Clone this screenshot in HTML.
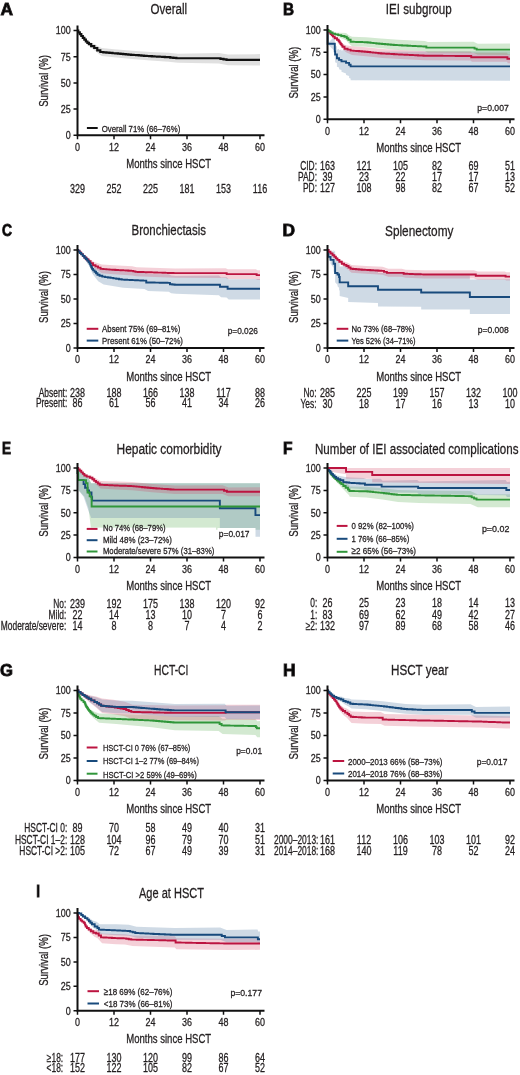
<!DOCTYPE html>
<html><head><meta charset="utf-8"><style>
html,body{margin:0;padding:0;background:#fff;}
svg{display:block;will-change:transform;}
text{font-family:"Liberation Sans",sans-serif;stroke:#231f20;stroke-width:0.3px;}
</style></head><body>
<svg width="520" height="1075" viewBox="0 0 520 1075">
<rect width="520" height="1075" fill="#fff"/>
<text transform="translate(0.50,15.00) scale(1.021,1)" font-size="17" font-weight="bold" style="stroke-width:0.9px" fill="#000">A</text>
<text transform="translate(150.50,13.70) scale(0.757,1)" font-size="15.3" fill="#231f20">Overall</text>
<path d="M77.50,30.50 L80.54,33.47 L83.58,36.44 L86.62,39.41 L89.67,41.65 L92.71,43.37 L95.75,44.77 L98.79,46.81 L101.83,48.00 L114.00,49.18 L132.25,50.64 L150.50,51.89 L168.75,52.82 L177.88,53.73 L218.94,53.12 L228.06,54.56 L260.00,54.08 L260.00,65.61 L228.06,65.13 L218.94,63.42 L177.88,62.81 L168.75,61.63 L150.50,60.46 L132.25,58.99 L114.00,57.30 L101.83,55.97 L98.79,54.02 L95.75,51.23 L92.71,49.07 L89.67,46.60 L86.62,43.60 L83.58,39.23 L80.54,34.87 L77.50,30.50 Z" fill="#b4b4b4" fill-opacity="0.42" stroke="none"/>
<path d="M77.50,30.50 L78.26,30.50 L78.26,32.33 L79.78,32.33 L79.78,34.17 L80.54,34.17 L81.30,34.17 L81.30,36.00 L82.82,36.00 L82.82,37.84 L83.58,37.84 L84.34,37.84 L84.34,39.67 L85.86,39.67 L85.86,41.50 L86.62,41.50 L87.39,41.50 L87.39,42.81 L88.91,42.81 L88.91,44.12 L89.67,44.12 L91.19,44.12 L91.19,46.22 L92.71,46.22 L94.23,46.22 L94.23,48.00 L95.75,48.00 L97.27,48.00 L97.27,50.41 L98.79,50.41 L100.31,50.41 L100.31,51.98 L101.83,51.98 L103.35,51.98 L103.35,52.30 L106.40,52.30 L106.40,52.61 L109.44,52.61 L109.44,52.93 L112.48,52.93 L112.48,53.24 L114.00,53.24 L115.30,53.24 L115.30,53.47 L117.91,53.47 L117.91,53.69 L120.52,53.69 L120.52,53.92 L123.12,53.92 L123.12,54.14 L125.73,54.14 L125.73,54.36 L128.34,54.36 L128.34,54.59 L130.95,54.59 L130.95,54.81 L132.25,54.81 L133.55,54.81 L133.55,55.01 L136.16,55.01 L136.16,55.20 L138.77,55.20 L138.77,55.40 L141.38,55.40 L141.38,55.59 L143.98,55.59 L143.98,55.79 L146.59,55.79 L146.59,55.98 L149.20,55.98 L149.20,56.18 L150.50,56.18 L151.80,56.18 L151.80,56.33 L154.41,56.33 L154.41,56.48 L157.02,56.48 L157.02,56.63 L159.62,56.63 L159.62,56.77 L162.23,56.77 L162.23,56.92 L164.84,56.92 L164.84,57.07 L167.45,57.07 L167.45,57.22 L168.75,57.22 L170.27,57.22 L170.27,57.57 L173.31,57.57 L173.31,57.92 L176.35,57.92 L176.35,58.27 L177.88,58.27 L218.94,58.27 L220.46,58.27 L220.46,58.80 L223.50,58.80 L223.50,59.32 L226.54,59.32 L226.54,59.84 L228.06,59.84 L260.00,59.84" fill="none" stroke="#111" stroke-width="2.2" stroke-linejoin="miter"/>
<path d="M77.5,25.50 V135.3 H264.5" fill="none" stroke="#111" stroke-width="2"/>
<text transform="translate(65.72,139.10) scale(0.780,1)" font-size="11.5" fill="#231f20">0</text>
<text transform="translate(60.74,112.90) scale(0.780,1)" font-size="11.5" fill="#231f20">25</text>
<text transform="translate(60.74,86.70) scale(0.780,1)" font-size="11.5" fill="#231f20">50</text>
<text transform="translate(60.74,60.50) scale(0.780,1)" font-size="11.5" fill="#231f20">75</text>
<text transform="translate(55.72,34.30) scale(0.780,1)" font-size="11.5" fill="#231f20">100</text>
<text transform="translate(75.01,150.70) scale(0.780,1)" font-size="11.5" fill="#231f20">0</text>
<text transform="translate(109.02,150.70) scale(0.780,1)" font-size="11.5" fill="#231f20">12</text>
<text transform="translate(145.52,150.70) scale(0.780,1)" font-size="11.5" fill="#231f20">24</text>
<text transform="translate(182.02,150.70) scale(0.780,1)" font-size="11.5" fill="#231f20">36</text>
<text transform="translate(218.52,150.70) scale(0.780,1)" font-size="11.5" fill="#231f20">48</text>
<text transform="translate(255.02,150.70) scale(0.780,1)" font-size="11.5" fill="#231f20">60</text>
<path d="M73.5,135.30 H77.5 M73.5,109.10 H77.5 M73.5,82.90 H77.5 M73.5,56.70 H77.5 M73.5,30.50 H77.5 M77.50,135.3 V139.3 M114.00,135.3 V139.3 M150.50,135.3 V139.3 M187.00,135.3 V139.3 M223.50,135.3 V139.3 M260.00,135.3 V139.3" stroke="#111" stroke-width="1.5" fill="none"/>
<text transform="translate(126.28,167.80) scale(0.735,1)" font-size="13" fill="#231f20">Months since HSCT</text>
<text transform="translate(48.20,80.90) rotate(-90) translate(-25.94,0) scale(0.77,1)" font-size="12.5" fill="#231f20">Survival (%)</text>
<line x1="86.9" y1="128" x2="97.7" y2="128" stroke="#111" stroke-width="2"/>
<text transform="translate(101.70,131.90) scale(0.790,1)" font-size="9.9" fill="#231f20">Overall 71% (66–76%)</text>
<text transform="translate(70.01,193.10) scale(0.735,1)" font-size="12.2" fill="#231f20">329</text>
<text transform="translate(106.51,193.10) scale(0.735,1)" font-size="12.2" fill="#231f20">252</text>
<text transform="translate(143.01,193.10) scale(0.735,1)" font-size="12.2" fill="#231f20">225</text>
<text transform="translate(179.51,193.10) scale(0.735,1)" font-size="12.2" fill="#231f20">181</text>
<text transform="translate(216.01,193.10) scale(0.735,1)" font-size="12.2" fill="#231f20">153</text>
<text transform="translate(252.85,193.10) scale(0.735,1)" font-size="12.2" fill="#231f20">116</text>
<text transform="translate(283.00,15.00) scale(0.899,1)" font-size="17" font-weight="bold" style="stroke-width:0.9px" fill="#000">B</text>
<text transform="translate(385.80,13.50) scale(0.760,1)" font-size="15.3" fill="#231f20">IEI subgroup</text>
<path d="M327.50,30.00 L327.65,30.00 L327.65,43.56 L334.80,36.07 L334.80,43.74 L335.10,43.60 L335.10,46.73 L336.93,45.92 L336.93,49.67 L339.06,48.73 L339.06,50.34 L341.49,49.27 L341.49,50.78 L346.05,48.78 L346.05,50.29 L349.10,48.95 L349.10,50.83 L350.62,50.16 L350.62,51.76 L510.00,51.23 L510.00,51.23 L510.00,80.67 L510.00,80.67 L350.62,80.19 L350.62,78.58 L349.10,77.99 L349.10,76.12 L346.05,74.93 L346.05,73.41 L341.49,71.63 L341.49,70.11 L339.06,69.16 L339.06,67.55 L336.93,66.72 L336.93,62.97 L335.10,62.26 L335.10,59.14 L334.80,59.02 L334.80,51.35 L327.65,43.92 L327.65,30.18 L327.50,30.00 Z" fill="#5f86aa" fill-opacity="0.3" stroke="none"/>
<path d="M327.50,30.00 L333.58,35.49 L338.15,37.86 L343.01,43.93 L346.05,45.33 L352.14,46.15 L366.13,47.30 L382.55,49.00 L400.50,50.07 L424.83,51.23 L470.46,51.59 L471.98,52.84 L506.96,52.84 L507.87,54.26 L510.00,54.26 L510.00,63.18 L507.87,63.18 L506.96,61.76 L471.98,61.76 L470.46,60.51 L424.83,60.15 L400.50,58.99 L382.55,57.92 L366.13,56.22 L352.14,55.07 L346.05,52.13 L343.01,49.61 L338.15,41.76 L333.58,37.72 L327.50,30.00 Z" fill="#d23a5e" fill-opacity="0.24" stroke="none"/>
<path d="M327.50,30.00 L333.58,32.43 L339.67,32.72 L346.05,33.04 L349.10,35.46 L352.14,36.87 L366.13,37.19 L380.73,38.59 L398.07,39.87 L424.83,40.98 L427.88,42.11 L473.50,41.73 L477.76,43.65 L510.00,43.38 L510.00,54.98 L477.76,54.79 L473.50,52.81 L427.88,52.55 L424.83,51.37 L398.07,49.88 L380.73,48.36 L366.13,46.76 L352.14,46.24 L349.10,43.77 L346.05,40.18 L339.67,37.40 L333.58,34.77 L327.50,30.00 Z" fill="#5cae54" fill-opacity="0.27" stroke="none"/>
<path d="M327.50,30.00 L327.65,30.00 L327.65,43.74 L334.80,43.74 L334.80,51.41 L335.10,51.41 L335.10,54.53 L336.93,54.53 L336.93,58.28 L339.06,58.28 L339.06,59.88 L341.49,59.88 L341.49,61.40 L346.05,61.40 L346.05,62.91 L349.10,62.91 L349.10,64.79 L350.62,64.79 L350.62,66.39 L510.00,66.39 L510.00,66.39" fill="none" stroke="#184a7c" stroke-width="1.9" stroke-linejoin="miter"/>
<path d="M327.50,30.00 L328.11,30.00 L328.11,31.32 L329.32,31.32 L329.32,32.64 L330.54,32.64 L330.54,33.96 L331.76,33.96 L331.76,35.28 L332.98,35.28 L332.98,36.60 L333.58,36.60 L334.72,36.60 L334.72,38.21 L337.01,38.21 L337.01,39.81 L338.15,39.81 L338.63,39.81 L338.63,41.20 L339.61,41.20 L339.61,42.60 L340.58,42.60 L340.58,43.99 L341.55,43.99 L341.55,45.38 L342.53,45.38 L342.53,46.77 L343.01,46.77 L344.53,46.77 L344.53,48.73 L346.05,48.73 L347.57,48.73 L347.57,49.67 L350.62,49.67 L350.62,50.61 L352.14,50.61 L353.54,50.61 L353.54,50.84 L356.33,50.84 L356.33,51.07 L359.13,51.07 L359.13,51.30 L361.93,51.30 L361.93,51.53 L364.73,51.53 L364.73,51.76 L366.13,51.76 L367.50,51.76 L367.50,52.05 L370.24,52.05 L370.24,52.33 L372.97,52.33 L372.97,52.61 L375.71,52.61 L375.71,52.89 L378.45,52.89 L378.45,53.18 L381.19,53.18 L381.19,53.46 L382.55,53.46 L383.84,53.46 L383.84,53.61 L386.40,53.61 L386.40,53.77 L388.96,53.77 L388.96,53.92 L391.53,53.92 L391.53,54.07 L394.09,54.07 L394.09,54.22 L396.65,54.22 L396.65,54.38 L399.22,54.38 L399.22,54.53 L400.50,54.53 L401.85,54.53 L401.85,54.66 L404.56,54.66 L404.56,54.79 L407.26,54.79 L407.26,54.92 L409.96,54.92 L409.96,55.05 L412.67,55.05 L412.67,55.17 L415.37,55.17 L415.37,55.30 L418.07,55.30 L418.07,55.43 L420.78,55.43 L420.78,55.56 L423.48,55.56 L423.48,55.69 L424.83,55.69 L426.18,55.69 L426.18,55.71 L428.86,55.71 L428.86,55.73 L431.54,55.73 L431.54,55.75 L434.23,55.75 L434.23,55.77 L436.91,55.77 L436.91,55.79 L439.59,55.79 L439.59,55.82 L442.28,55.82 L442.28,55.84 L444.96,55.84 L444.96,55.86 L447.65,55.86 L447.65,55.88 L450.33,55.88 L450.33,55.90 L453.01,55.90 L453.01,55.92 L455.70,55.92 L455.70,55.94 L458.38,55.94 L458.38,55.96 L461.06,55.96 L461.06,55.98 L463.75,55.98 L463.75,56.00 L466.43,56.00 L466.43,56.03 L469.12,56.03 L469.12,56.05 L470.46,56.05 L471.22,56.05 L471.22,57.30 L471.98,57.30 L506.96,57.30 L507.41,57.30 L507.41,58.72 L507.87,58.72 L510.00,58.72" fill="none" stroke="#bc1440" stroke-width="1.9" stroke-linejoin="miter"/>
<path d="M327.50,30.00 L328.51,30.00 L328.51,31.22 L330.54,31.22 L330.54,32.44 L332.57,32.44 L332.57,33.66 L333.58,33.66 L335.10,33.66 L335.10,34.42 L338.15,34.42 L338.15,35.17 L339.67,35.17 L341.26,35.17 L341.26,35.98 L344.46,35.98 L344.46,36.78 L346.05,36.78 L346.81,36.78 L346.81,38.30 L348.34,38.30 L348.34,39.81 L349.10,39.81 L350.62,39.81 L350.62,41.77 L352.14,41.77 L353.54,41.77 L353.54,41.86 L356.33,41.86 L356.33,41.95 L359.13,41.95 L359.13,42.04 L361.93,42.04 L361.93,42.13 L364.73,42.13 L364.73,42.22 L366.13,42.22 L367.59,42.22 L367.59,42.52 L370.51,42.52 L370.51,42.83 L373.43,42.83 L373.43,43.13 L376.35,43.13 L376.35,43.43 L379.27,43.43 L379.27,43.74 L380.73,43.74 L382.17,43.74 L382.17,43.97 L385.06,43.97 L385.06,44.21 L387.95,44.21 L387.95,44.45 L390.84,44.45 L390.84,44.69 L393.73,44.69 L393.73,44.93 L396.62,44.93 L396.62,45.16 L398.07,45.16 L399.40,45.16 L399.40,45.30 L402.08,45.30 L402.08,45.43 L404.76,45.43 L404.76,45.57 L407.44,45.57 L407.44,45.70 L410.11,45.70 L410.11,45.83 L412.79,45.83 L412.79,45.97 L415.46,45.97 L415.46,46.10 L418.14,46.10 L418.14,46.23 L420.82,46.23 L420.82,46.37 L423.50,46.37 L423.50,46.50 L424.83,46.50 L426.35,46.50 L426.35,47.66 L427.88,47.66 L473.50,47.66 L474.56,47.66 L474.56,48.64 L476.69,48.64 L476.69,49.62 L477.76,49.62 L510.00,49.62" fill="none" stroke="#30963a" stroke-width="1.9" stroke-linejoin="miter"/>
<path d="M327.5,25.00 V119.2 H514.5" fill="none" stroke="#111" stroke-width="2"/>
<text transform="translate(315.72,123.00) scale(0.780,1)" font-size="11.5" fill="#231f20">0</text>
<text transform="translate(310.74,100.70) scale(0.780,1)" font-size="11.5" fill="#231f20">25</text>
<text transform="translate(310.74,78.40) scale(0.780,1)" font-size="11.5" fill="#231f20">50</text>
<text transform="translate(310.74,56.10) scale(0.780,1)" font-size="11.5" fill="#231f20">75</text>
<text transform="translate(305.72,33.80) scale(0.780,1)" font-size="11.5" fill="#231f20">100</text>
<text transform="translate(325.01,134.60) scale(0.780,1)" font-size="11.5" fill="#231f20">0</text>
<text transform="translate(359.02,134.60) scale(0.780,1)" font-size="11.5" fill="#231f20">12</text>
<text transform="translate(395.52,134.60) scale(0.780,1)" font-size="11.5" fill="#231f20">24</text>
<text transform="translate(432.02,134.60) scale(0.780,1)" font-size="11.5" fill="#231f20">36</text>
<text transform="translate(468.52,134.60) scale(0.780,1)" font-size="11.5" fill="#231f20">48</text>
<text transform="translate(505.02,134.60) scale(0.780,1)" font-size="11.5" fill="#231f20">60</text>
<path d="M323.5,119.20 H327.5 M323.5,96.90 H327.5 M323.5,74.60 H327.5 M323.5,52.30 H327.5 M323.5,30.00 H327.5 M327.50,119.2 V123.2 M364.00,119.2 V123.2 M400.50,119.2 V123.2 M437.00,119.2 V123.2 M473.50,119.2 V123.2 M510.00,119.2 V123.2" stroke="#111" stroke-width="1.5" fill="none"/>
<text transform="translate(376.28,151.70) scale(0.735,1)" font-size="13" fill="#231f20">Months since HSCT</text>
<text transform="translate(298.20,72.60) rotate(-90) translate(-25.94,0) scale(0.77,1)" font-size="12.5" fill="#231f20">Survival (%)</text>
<text transform="translate(477.30,110.50) scale(0.873,1)" font-size="9.9" fill="#231f20">p=0.007</text>
<text transform="translate(300.16,169.90) scale(0.690,1)" font-size="12.2" fill="#231f20">CID:</text>
<text transform="translate(320.01,169.90) scale(0.735,1)" font-size="12.2" fill="#231f20">163</text>
<text transform="translate(356.51,169.90) scale(0.735,1)" font-size="12.2" fill="#231f20">121</text>
<text transform="translate(393.01,169.90) scale(0.735,1)" font-size="12.2" fill="#231f20">105</text>
<text transform="translate(432.02,169.90) scale(0.735,1)" font-size="12.2" fill="#231f20">82</text>
<text transform="translate(468.52,169.90) scale(0.735,1)" font-size="12.2" fill="#231f20">69</text>
<text transform="translate(505.02,169.90) scale(0.735,1)" font-size="12.2" fill="#231f20">51</text>
<text transform="translate(297.98,180.80) scale(0.690,1)" font-size="12.2" fill="#231f20">PAD:</text>
<text transform="translate(322.52,180.80) scale(0.735,1)" font-size="12.2" fill="#231f20">39</text>
<text transform="translate(359.02,180.80) scale(0.735,1)" font-size="12.2" fill="#231f20">23</text>
<text transform="translate(395.52,180.80) scale(0.735,1)" font-size="12.2" fill="#231f20">22</text>
<text transform="translate(432.02,180.80) scale(0.735,1)" font-size="12.2" fill="#231f20">17</text>
<text transform="translate(468.52,180.80) scale(0.735,1)" font-size="12.2" fill="#231f20">17</text>
<text transform="translate(505.02,180.80) scale(0.735,1)" font-size="12.2" fill="#231f20">13</text>
<text transform="translate(302.98,191.60) scale(0.690,1)" font-size="12.2" fill="#231f20">PD:</text>
<text transform="translate(320.01,191.60) scale(0.735,1)" font-size="12.2" fill="#231f20">127</text>
<text transform="translate(356.51,191.60) scale(0.735,1)" font-size="12.2" fill="#231f20">108</text>
<text transform="translate(395.52,191.60) scale(0.735,1)" font-size="12.2" fill="#231f20">98</text>
<text transform="translate(432.02,191.60) scale(0.735,1)" font-size="12.2" fill="#231f20">82</text>
<text transform="translate(468.52,191.60) scale(0.735,1)" font-size="12.2" fill="#231f20">67</text>
<text transform="translate(505.02,191.60) scale(0.735,1)" font-size="12.2" fill="#231f20">52</text>
<text transform="translate(2.00,236.25) scale(0.817,1)" font-size="17" font-weight="bold" style="stroke-width:0.9px" fill="#000">C</text>
<text transform="translate(131.50,235.00) scale(0.749,1)" font-size="15.3" fill="#231f20">Bronchiectasis</text>
<path d="M77.50,250.00 L83.58,253.92 L89.36,258.43 L92.40,264.11 L98.18,268.03 L103.66,268.79 L123.12,271.49 L144.42,272.21 L148.07,274.03 L168.75,274.16 L171.18,275.60 L175.75,276.03 L218.94,275.50 L221.07,277.43 L226.54,277.36 L228.67,279.30 L260.00,278.91 L260.00,299.49 L228.67,299.46 L226.54,297.43 L221.07,297.26 L218.94,295.23 L175.75,293.84 L171.18,293.20 L168.75,291.65 L148.07,290.96 L144.42,289.04 L123.12,287.75 L103.66,284.52 L98.18,281.36 L92.40,273.72 L89.36,266.07 L83.58,257.84 L77.50,250.00 Z" fill="#5f86aa" fill-opacity="0.3" stroke="none"/>
<path d="M77.50,250.00 L78.72,250.37 L83.58,254.78 L89.36,259.12 L94.23,262.06 L101.83,264.50 L114.00,265.35 L132.25,266.37 L136.51,267.34 L174.83,268.49 L225.63,268.33 L227.76,269.31 L255.74,269.22 L257.57,270.20 L260.00,270.19 L260.00,279.99 L257.57,279.98 L255.74,278.99 L227.76,278.91 L225.63,277.92 L174.83,277.76 L136.51,276.37 L132.25,275.38 L114.00,274.24 L101.83,273.32 L94.23,268.12 L89.36,263.42 L83.58,256.98 L78.72,250.81 L77.50,250.00 Z" fill="#d23a5e" fill-opacity="0.24" stroke="none"/>
<path d="M77.50,250.00 L78.11,250.00 L78.11,250.59 L78.72,250.59 L79.53,250.59 L79.53,252.35 L81.15,252.35 L81.15,254.12 L82.77,254.12 L82.77,255.88 L83.58,255.88 L84.55,255.88 L84.55,257.68 L86.47,257.68 L86.47,259.47 L88.40,259.47 L88.40,261.27 L89.36,261.27 L90.58,261.27 L90.58,263.18 L93.01,263.18 L93.01,265.09 L94.23,265.09 L95.50,265.09 L95.50,266.37 L98.03,266.37 L98.03,267.64 L100.57,267.64 L100.57,268.91 L101.83,268.91 L103.35,268.91 L103.35,269.13 L106.40,269.13 L106.40,269.36 L109.44,269.36 L109.44,269.58 L112.48,269.58 L112.48,269.80 L114.00,269.80 L115.30,269.80 L115.30,269.95 L117.91,269.95 L117.91,270.10 L120.52,270.10 L120.52,270.26 L123.12,270.26 L123.12,270.41 L125.73,270.41 L125.73,270.57 L128.34,270.57 L128.34,270.72 L130.95,270.72 L130.95,270.87 L132.25,270.87 L133.31,270.87 L133.31,271.36 L135.44,271.36 L135.44,271.85 L136.51,271.85 L137.88,271.85 L137.88,271.94 L140.61,271.94 L140.61,272.04 L143.35,272.04 L143.35,272.13 L146.09,272.13 L146.09,272.22 L148.83,272.22 L148.83,272.31 L151.56,272.31 L151.56,272.40 L154.30,272.40 L154.30,272.49 L157.04,272.49 L157.04,272.58 L159.78,272.58 L159.78,272.67 L162.51,272.67 L162.51,272.76 L165.25,272.76 L165.25,272.86 L167.99,272.86 L167.99,272.95 L170.73,272.95 L170.73,273.04 L173.46,273.04 L173.46,273.13 L174.83,273.13 L225.63,273.13 L226.69,273.13 L226.69,274.11 L227.76,274.11 L255.74,274.11 L256.65,274.11 L256.65,275.09 L257.57,275.09 L260.00,275.09" fill="none" stroke="#bc1440" stroke-width="1.9" stroke-linejoin="miter"/>
<path d="M77.50,250.00 L78.26,250.00 L78.26,251.47 L79.78,251.47 L79.78,252.94 L81.30,252.94 L81.30,254.41 L82.82,254.41 L82.82,255.88 L83.58,255.88 L84.31,255.88 L84.31,257.47 L85.75,257.47 L85.75,259.06 L87.20,259.06 L87.20,260.66 L88.64,260.66 L88.64,262.25 L89.36,262.25 L89.74,262.25 L89.74,263.92 L90.50,263.92 L90.50,265.58 L91.26,265.58 L91.26,267.25 L92.02,267.25 L92.02,268.91 L92.40,268.91 L93.13,268.91 L93.13,270.36 L94.57,270.36 L94.57,271.81 L96.02,271.81 L96.02,273.25 L97.46,273.25 L97.46,274.70 L98.18,274.70 L99.55,274.70 L99.55,275.68 L102.29,275.68 L102.29,276.66 L103.66,276.66 L105.05,276.66 L105.05,277.08 L107.83,277.08 L107.83,277.50 L110.61,277.50 L110.61,277.92 L113.39,277.92 L113.39,278.34 L116.17,278.34 L116.17,278.76 L118.95,278.76 L118.95,279.18 L121.73,279.18 L121.73,279.60 L123.12,279.60 L124.46,279.60 L124.46,279.72 L127.12,279.72 L127.12,279.84 L129.78,279.84 L129.78,279.96 L132.44,279.96 L132.44,280.09 L135.10,280.09 L135.10,280.21 L137.76,280.21 L137.76,280.33 L140.42,280.33 L140.42,280.45 L143.09,280.45 L143.09,280.58 L144.42,280.58 L146.24,280.58 L146.24,282.44 L148.07,282.44 L149.36,282.44 L149.36,282.49 L151.94,282.49 L151.94,282.54 L154.53,282.54 L154.53,282.58 L157.12,282.58 L157.12,282.63 L159.70,282.63 L159.70,282.68 L162.29,282.68 L162.29,282.73 L164.87,282.73 L164.87,282.78 L167.46,282.78 L167.46,282.83 L168.75,282.83 L169.97,282.83 L169.97,284.30 L171.18,284.30 L172.32,284.30 L172.32,284.55 L174.61,284.55 L174.61,284.79 L175.75,284.79 L218.94,284.79 L220.00,284.79 L220.00,286.75 L221.07,286.75 L226.54,286.75 L227.61,286.75 L227.61,288.71 L228.67,288.71 L260.00,288.71" fill="none" stroke="#184a7c" stroke-width="1.9" stroke-linejoin="miter"/>
<path d="M77.5,245.00 V348 H264.5" fill="none" stroke="#111" stroke-width="2"/>
<text transform="translate(65.72,351.80) scale(0.780,1)" font-size="11.5" fill="#231f20">0</text>
<text transform="translate(60.74,327.30) scale(0.780,1)" font-size="11.5" fill="#231f20">25</text>
<text transform="translate(60.74,302.80) scale(0.780,1)" font-size="11.5" fill="#231f20">50</text>
<text transform="translate(60.74,278.30) scale(0.780,1)" font-size="11.5" fill="#231f20">75</text>
<text transform="translate(55.72,253.80) scale(0.780,1)" font-size="11.5" fill="#231f20">100</text>
<text transform="translate(75.01,363.40) scale(0.780,1)" font-size="11.5" fill="#231f20">0</text>
<text transform="translate(109.02,363.40) scale(0.780,1)" font-size="11.5" fill="#231f20">12</text>
<text transform="translate(145.52,363.40) scale(0.780,1)" font-size="11.5" fill="#231f20">24</text>
<text transform="translate(182.02,363.40) scale(0.780,1)" font-size="11.5" fill="#231f20">36</text>
<text transform="translate(218.52,363.40) scale(0.780,1)" font-size="11.5" fill="#231f20">48</text>
<text transform="translate(255.02,363.40) scale(0.780,1)" font-size="11.5" fill="#231f20">60</text>
<path d="M73.5,348.00 H77.5 M73.5,323.50 H77.5 M73.5,299.00 H77.5 M73.5,274.50 H77.5 M73.5,250.00 H77.5 M77.50,348 V352 M114.00,348 V352 M150.50,348 V352 M187.00,348 V352 M223.50,348 V352 M260.00,348 V352" stroke="#111" stroke-width="1.5" fill="none"/>
<text transform="translate(126.28,380.50) scale(0.735,1)" font-size="13" fill="#231f20">Months since HSCT</text>
<text transform="translate(48.20,297.00) rotate(-90) translate(-25.94,0) scale(0.77,1)" font-size="12.5" fill="#231f20">Survival (%)</text>
<line x1="86.7" y1="328.8" x2="98.3" y2="328.8" stroke="#bc1440" stroke-width="2"/>
<text transform="translate(102.10,331.90) scale(0.790,1)" font-size="9.9" fill="#231f20">Absent 75% (69–81%)</text>
<line x1="86.7" y1="340.6" x2="98.3" y2="340.6" stroke="#184a7c" stroke-width="2"/>
<text transform="translate(102.10,344.10) scale(0.792,1)" font-size="9.9" fill="#231f20">Present 61% (50–72%)</text>
<text transform="translate(227.70,334.00) scale(0.840,1)" font-size="9.9" fill="#231f20">p=0.026</text>
<text transform="translate(38.76,397.00) scale(0.690,1)" font-size="12.2" fill="#231f20">Absent:</text>
<text transform="translate(70.01,397.00) scale(0.735,1)" font-size="12.2" fill="#231f20">238</text>
<text transform="translate(106.51,397.00) scale(0.735,1)" font-size="12.2" fill="#231f20">188</text>
<text transform="translate(143.01,397.00) scale(0.735,1)" font-size="12.2" fill="#231f20">166</text>
<text transform="translate(179.51,397.00) scale(0.735,1)" font-size="12.2" fill="#231f20">138</text>
<text transform="translate(216.35,397.00) scale(0.735,1)" font-size="12.2" fill="#231f20">117</text>
<text transform="translate(255.02,397.00) scale(0.735,1)" font-size="12.2" fill="#231f20">88</text>
<text transform="translate(35.94,407.40) scale(0.690,1)" font-size="12.2" fill="#231f20">Present:</text>
<text transform="translate(72.52,407.40) scale(0.735,1)" font-size="12.2" fill="#231f20">86</text>
<text transform="translate(109.02,407.40) scale(0.735,1)" font-size="12.2" fill="#231f20">61</text>
<text transform="translate(145.52,407.40) scale(0.735,1)" font-size="12.2" fill="#231f20">56</text>
<text transform="translate(182.02,407.40) scale(0.735,1)" font-size="12.2" fill="#231f20">41</text>
<text transform="translate(218.52,407.40) scale(0.735,1)" font-size="12.2" fill="#231f20">34</text>
<text transform="translate(255.02,407.40) scale(0.735,1)" font-size="12.2" fill="#231f20">26</text>
<text transform="translate(282.50,236.25) scale(1.021,1)" font-size="17" font-weight="bold" style="stroke-width:0.9px" fill="#000">D</text>
<text transform="translate(385.00,236.00) scale(0.775,1)" font-size="15.3" fill="#231f20">Splenectomy</text>
<path d="M327.50,250.00 L328.41,250.00 L328.41,254.80 L330.54,250.00 L330.54,253.04 L333.58,250.00 L333.58,252.45 L335.10,250.25 L335.10,259.56 L337.54,257.29 L337.54,258.76 L339.06,258.66 L339.06,261.11 L339.67,261.07 L339.67,266.46 L348.18,265.92 L348.18,269.84 L377.99,269.44 L377.99,272.97 L421.18,272.70 L421.18,275.44 L469.85,275.14 L469.85,279.55 L510.00,279.30 L510.00,279.30 L510.00,314.09 L510.00,314.09 L469.85,313.97 L469.85,309.56 L421.18,309.41 L421.18,306.66 L377.99,306.53 L377.99,303.00 L348.18,302.04 L348.18,298.12 L339.67,296.06 L339.67,290.67 L339.06,290.08 L339.06,287.63 L337.54,286.16 L337.54,284.69 L335.10,282.34 L335.10,273.03 L333.58,271.56 L333.58,267.74 L330.54,263.82 L330.54,260.78 L328.41,258.04 L328.41,251.18 L327.50,250.00 Z" fill="#5f86aa" fill-opacity="0.3" stroke="none"/>
<path d="M327.50,250.00 L333.58,254.21 L338.15,258.18 L343.01,261.22 L347.57,262.84 L351.53,264.94 L366.13,265.93 L382.55,266.86 L388.33,268.80 L401.72,268.76 L405.67,269.73 L424.83,270.35 L473.80,270.20 L477.76,271.46 L504.83,271.38 L506.35,272.26 L510.00,272.25 L510.00,280.58 L506.35,280.58 L504.83,279.69 L477.76,279.69 L473.80,278.42 L424.83,278.42 L405.67,277.73 L401.72,276.75 L388.33,276.75 L382.55,274.79 L366.13,273.81 L351.53,272.69 L347.57,269.31 L343.01,266.22 L338.15,261.61 L333.58,256.17 L327.50,250.00 Z" fill="#d23a5e" fill-opacity="0.24" stroke="none"/>
<path d="M327.50,250.00 L328.41,250.00 L328.41,256.86 L330.54,256.86 L330.54,259.90 L333.58,259.90 L333.58,263.72 L335.10,263.72 L335.10,273.03 L337.54,273.03 L337.54,274.50 L339.06,274.50 L339.06,276.95 L339.67,276.95 L339.67,282.34 L348.18,282.34 L348.18,286.26 L377.99,286.26 L377.99,289.79 L421.18,289.79 L421.18,292.53 L469.85,292.53 L469.85,296.94 L510.00,296.94 L510.00,296.94" fill="none" stroke="#184a7c" stroke-width="1.9" stroke-linejoin="miter"/>
<path d="M327.50,250.00 L328.51,250.00 L328.51,251.73 L330.54,251.73 L330.54,253.46 L332.57,253.46 L332.57,255.19 L333.58,255.19 L334.34,255.19 L334.34,256.76 L335.86,256.76 L335.86,258.33 L337.39,258.33 L337.39,259.90 L338.15,259.90 L339.36,259.90 L339.36,261.81 L341.80,261.81 L341.80,263.72 L343.01,263.72 L344.15,263.72 L344.15,264.90 L346.43,264.90 L346.43,266.07 L347.57,266.07 L348.56,266.07 L348.56,267.44 L350.54,267.44 L350.54,268.82 L351.53,268.82 L352.99,268.82 L352.99,269.03 L355.91,269.03 L355.91,269.25 L358.83,269.25 L358.83,269.46 L361.75,269.46 L361.75,269.68 L364.67,269.68 L364.67,269.89 L366.13,269.89 L367.50,269.89 L367.50,270.06 L370.24,270.06 L370.24,270.22 L372.97,270.22 L372.97,270.38 L375.71,270.38 L375.71,270.55 L378.45,270.55 L378.45,270.71 L381.19,270.71 L381.19,270.87 L382.55,270.87 L384.00,270.87 L384.00,271.85 L386.89,271.85 L386.89,272.83 L388.33,272.83 L401.72,272.83 L403.69,272.83 L403.69,273.81 L405.67,273.81 L407.04,273.81 L407.04,273.91 L409.78,273.91 L409.78,274.01 L412.51,274.01 L412.51,274.11 L415.25,274.11 L415.25,274.21 L417.99,274.21 L417.99,274.30 L420.73,274.30 L420.73,274.40 L423.46,274.40 L423.46,274.50 L424.83,274.50 L473.80,274.50 L475.78,274.50 L475.78,275.77 L477.76,275.77 L504.83,275.77 L505.59,275.77 L505.59,276.66 L506.35,276.66 L510.00,276.66" fill="none" stroke="#bc1440" stroke-width="1.9" stroke-linejoin="miter"/>
<path d="M327.5,245.00 V348 H514.5" fill="none" stroke="#111" stroke-width="2"/>
<text transform="translate(315.72,351.80) scale(0.780,1)" font-size="11.5" fill="#231f20">0</text>
<text transform="translate(310.74,327.30) scale(0.780,1)" font-size="11.5" fill="#231f20">25</text>
<text transform="translate(310.74,302.80) scale(0.780,1)" font-size="11.5" fill="#231f20">50</text>
<text transform="translate(310.74,278.30) scale(0.780,1)" font-size="11.5" fill="#231f20">75</text>
<text transform="translate(305.72,253.80) scale(0.780,1)" font-size="11.5" fill="#231f20">100</text>
<text transform="translate(325.01,363.40) scale(0.780,1)" font-size="11.5" fill="#231f20">0</text>
<text transform="translate(359.02,363.40) scale(0.780,1)" font-size="11.5" fill="#231f20">12</text>
<text transform="translate(395.52,363.40) scale(0.780,1)" font-size="11.5" fill="#231f20">24</text>
<text transform="translate(432.02,363.40) scale(0.780,1)" font-size="11.5" fill="#231f20">36</text>
<text transform="translate(468.52,363.40) scale(0.780,1)" font-size="11.5" fill="#231f20">48</text>
<text transform="translate(505.02,363.40) scale(0.780,1)" font-size="11.5" fill="#231f20">60</text>
<path d="M323.5,348.00 H327.5 M323.5,323.50 H327.5 M323.5,299.00 H327.5 M323.5,274.50 H327.5 M323.5,250.00 H327.5 M327.50,348 V352 M364.00,348 V352 M400.50,348 V352 M437.00,348 V352 M473.50,348 V352 M510.00,348 V352" stroke="#111" stroke-width="1.5" fill="none"/>
<text transform="translate(376.28,380.50) scale(0.735,1)" font-size="13" fill="#231f20">Months since HSCT</text>
<text transform="translate(298.20,297.00) rotate(-90) translate(-25.94,0) scale(0.77,1)" font-size="12.5" fill="#231f20">Survival (%)</text>
<line x1="336.7" y1="328.8" x2="348.3" y2="328.8" stroke="#bc1440" stroke-width="2"/>
<text transform="translate(351.50,331.90) scale(0.780,1)" font-size="9.9" fill="#231f20">No 73% (68–78%)</text>
<line x1="336.7" y1="340.6" x2="348.3" y2="340.6" stroke="#184a7c" stroke-width="2"/>
<text transform="translate(351.50,344.10) scale(0.760,1)" font-size="9.9" fill="#231f20">Yes 52% (34–71%)</text>
<text transform="translate(477.70,333.20) scale(0.862,1)" font-size="9.9" fill="#231f20">p=0.008</text>
<text transform="translate(303.41,396.70) scale(0.690,1)" font-size="12.2" fill="#231f20">No:</text>
<text transform="translate(320.01,396.70) scale(0.735,1)" font-size="12.2" fill="#231f20">285</text>
<text transform="translate(356.51,396.70) scale(0.735,1)" font-size="12.2" fill="#231f20">225</text>
<text transform="translate(393.01,396.70) scale(0.735,1)" font-size="12.2" fill="#231f20">199</text>
<text transform="translate(429.51,396.70) scale(0.735,1)" font-size="12.2" fill="#231f20">157</text>
<text transform="translate(466.01,396.70) scale(0.735,1)" font-size="12.2" fill="#231f20">132</text>
<text transform="translate(502.51,396.70) scale(0.735,1)" font-size="12.2" fill="#231f20">100</text>
<text transform="translate(300.42,407.80) scale(0.690,1)" font-size="12.2" fill="#231f20">Yes:</text>
<text transform="translate(322.52,407.80) scale(0.735,1)" font-size="12.2" fill="#231f20">30</text>
<text transform="translate(359.02,407.80) scale(0.735,1)" font-size="12.2" fill="#231f20">18</text>
<text transform="translate(395.52,407.80) scale(0.735,1)" font-size="12.2" fill="#231f20">17</text>
<text transform="translate(432.02,407.80) scale(0.735,1)" font-size="12.2" fill="#231f20">16</text>
<text transform="translate(468.52,407.80) scale(0.735,1)" font-size="12.2" fill="#231f20">13</text>
<text transform="translate(505.02,407.80) scale(0.735,1)" font-size="12.2" fill="#231f20">10</text>
<text transform="translate(2.00,453.75) scale(0.796,1)" font-size="17" font-weight="bold" style="stroke-width:0.9px" fill="#000">E</text>
<text transform="translate(116.50,453.50) scale(0.782,1)" font-size="15.3" fill="#231f20">Hepatic comorbidity</text>
<path d="M77.50,468.00 L78.72,470.69 L84.50,472.48 L88.45,476.95 L91.19,483.22 L260.00,483.22 L260.00,529.75 L91.19,529.75 L88.45,508.27 L84.50,496.64 L78.72,490.38 L77.50,468.00 Z" fill="#5cae54" fill-opacity="0.27" stroke="none"/>
<path d="M77.50,468.00 L78.72,470.69 L83.58,472.48 L87.54,476.95 L91.19,483.22 L260.00,483.22 L260.00,536.65 L219.85,536.65 L219.85,518.12 L91.19,518.12 L87.54,508.27 L83.58,496.64 L78.72,490.38 L77.50,468.00 Z" fill="#5f86aa" fill-opacity="0.3" stroke="none"/>
<path d="M77.50,468.00 L80.54,470.27 L85.10,474.17 L91.49,475.44 L95.14,477.97 L100.62,480.91 L116.13,481.47 L132.25,481.97 L152.02,483.88 L174.83,485.42 L222.59,485.29 L228.37,487.42 L260.00,487.33 L260.00,496.28 L228.37,496.19 L222.59,494.03 L174.83,493.89 L152.02,492.22 L132.25,490.19 L116.13,489.61 L100.62,488.56 L95.14,483.81 L91.49,480.07 L85.10,476.69 L80.54,471.28 L77.50,468.00 Z" fill="#d23a5e" fill-opacity="0.24" stroke="none"/>
<path d="M77.50,468.00 L77.65,468.00 L77.65,473.01 L78.11,473.01 L78.11,480.08 L83.58,480.08 L83.58,484.11 L85.10,484.11 L85.10,487.69 L87.54,487.69 L87.54,490.38 L89.06,490.38 L89.06,492.43 L91.49,492.43 L91.49,497.09 L92.10,497.09 L92.10,500.58 L219.85,500.58 L219.85,508.27 L255.44,508.27 L255.44,515.08 L260.00,515.08 L260.00,515.08" fill="none" stroke="#184a7c" stroke-width="1.9" stroke-linejoin="miter"/>
<path d="M77.50,468.00 L77.65,468.00 L77.65,473.01 L78.11,473.01 L78.11,480.08 L86.02,480.08 L86.02,483.13 L87.54,483.13 L87.54,492.43 L89.67,492.43 L89.67,496.37 L91.49,496.37 L91.49,498.70 L91.64,498.70 L91.64,506.49 L260.00,506.49 L260.00,506.49" fill="none" stroke="#30963a" stroke-width="1.9" stroke-linejoin="miter"/>
<path d="M77.50,468.00 L78.26,468.00 L78.26,469.39 L79.78,469.39 L79.78,470.77 L80.54,470.77 L81.30,470.77 L81.30,472.33 L82.82,472.33 L82.82,473.88 L84.34,473.88 L84.34,475.43 L85.10,475.43 L86.70,475.43 L86.70,476.59 L89.89,476.59 L89.89,477.76 L91.49,477.76 L92.40,477.76 L92.40,479.32 L94.23,479.32 L94.23,480.89 L95.14,480.89 L96.05,480.89 L96.05,482.17 L97.88,482.17 L97.88,483.45 L99.70,483.45 L99.70,484.74 L100.62,484.74 L101.91,484.74 L101.91,484.87 L104.49,484.87 L104.49,485.00 L107.08,485.00 L107.08,485.14 L109.67,485.14 L109.67,485.27 L112.25,485.27 L112.25,485.41 L114.84,485.41 L114.84,485.54 L116.13,485.54 L117.47,485.54 L117.47,485.63 L120.16,485.63 L120.16,485.72 L122.85,485.72 L122.85,485.81 L125.53,485.81 L125.53,485.90 L128.22,485.90 L128.22,485.99 L130.91,485.99 L130.91,486.08 L132.25,486.08 L133.66,486.08 L133.66,486.36 L136.49,486.36 L136.49,486.64 L139.31,486.64 L139.31,486.92 L142.14,486.92 L142.14,487.20 L144.96,487.20 L144.96,487.49 L147.78,487.49 L147.78,487.77 L150.61,487.77 L150.61,488.05 L152.02,488.05 L153.45,488.05 L153.45,488.25 L156.30,488.25 L156.30,488.45 L159.15,488.45 L159.15,488.65 L162.00,488.65 L162.00,488.85 L164.85,488.85 L164.85,489.05 L167.70,489.05 L167.70,489.26 L170.56,489.26 L170.56,489.46 L173.41,489.46 L173.41,489.66 L174.83,489.66 L222.59,489.66 L224.03,489.66 L224.03,490.73 L226.92,490.73 L226.92,491.81 L228.37,491.81 L260.00,491.81" fill="none" stroke="#bc1440" stroke-width="1.9" stroke-linejoin="miter"/>
<rect x="84" y="527.6" width="132" height="29" fill="#fff"/>
<rect x="217.5" y="528" width="38" height="28" fill="#fff"/>
<path d="M77.5,463.00 V557.5 H264.5" fill="none" stroke="#111" stroke-width="2"/>
<text transform="translate(65.72,561.30) scale(0.780,1)" font-size="11.5" fill="#231f20">0</text>
<text transform="translate(60.74,538.92) scale(0.780,1)" font-size="11.5" fill="#231f20">25</text>
<text transform="translate(60.74,516.55) scale(0.780,1)" font-size="11.5" fill="#231f20">50</text>
<text transform="translate(60.74,494.18) scale(0.780,1)" font-size="11.5" fill="#231f20">75</text>
<text transform="translate(55.72,471.80) scale(0.780,1)" font-size="11.5" fill="#231f20">100</text>
<text transform="translate(75.01,572.90) scale(0.780,1)" font-size="11.5" fill="#231f20">0</text>
<text transform="translate(109.02,572.90) scale(0.780,1)" font-size="11.5" fill="#231f20">12</text>
<text transform="translate(145.52,572.90) scale(0.780,1)" font-size="11.5" fill="#231f20">24</text>
<text transform="translate(182.02,572.90) scale(0.780,1)" font-size="11.5" fill="#231f20">36</text>
<text transform="translate(218.52,572.90) scale(0.780,1)" font-size="11.5" fill="#231f20">48</text>
<text transform="translate(255.02,572.90) scale(0.780,1)" font-size="11.5" fill="#231f20">60</text>
<path d="M73.5,557.50 H77.5 M73.5,535.12 H77.5 M73.5,512.75 H77.5 M73.5,490.38 H77.5 M73.5,468.00 H77.5 M77.50,557.5 V561.5 M114.00,557.5 V561.5 M150.50,557.5 V561.5 M187.00,557.5 V561.5 M223.50,557.5 V561.5 M260.00,557.5 V561.5" stroke="#111" stroke-width="1.5" fill="none"/>
<text transform="translate(126.28,590.00) scale(0.735,1)" font-size="13" fill="#231f20">Months since HSCT</text>
<text transform="translate(48.20,510.75) rotate(-90) translate(-25.94,0) scale(0.77,1)" font-size="12.5" fill="#231f20">Survival (%)</text>
<line x1="86.7" y1="528.9" x2="97.5" y2="528.9" stroke="#bc1440" stroke-width="2"/>
<text transform="translate(102.90,531.10) scale(0.775,1)" font-size="9.9" fill="#231f20">No 74% (68–79%)</text>
<line x1="86.7" y1="540.2" x2="97.5" y2="540.2" stroke="#184a7c" stroke-width="2"/>
<text transform="translate(102.90,542.50) scale(0.801,1)" font-size="9.9" fill="#231f20">Mild 48% (23–72%)</text>
<line x1="86.7" y1="551.5" x2="97.5" y2="551.5" stroke="#30963a" stroke-width="2"/>
<text transform="translate(102.90,553.50) scale(0.784,1)" font-size="9.9" fill="#231f20">Moderate/severe 57% (31–83%)</text>
<text transform="translate(218.80,536.50) scale(0.854,1)" font-size="9.9" fill="#231f20">p=0.017</text>
<text transform="translate(53.21,607.50) scale(0.690,1)" font-size="12.2" fill="#231f20">No:</text>
<text transform="translate(70.01,607.50) scale(0.735,1)" font-size="12.2" fill="#231f20">239</text>
<text transform="translate(106.51,607.50) scale(0.735,1)" font-size="12.2" fill="#231f20">192</text>
<text transform="translate(143.01,607.50) scale(0.735,1)" font-size="12.2" fill="#231f20">175</text>
<text transform="translate(179.51,607.50) scale(0.735,1)" font-size="12.2" fill="#231f20">138</text>
<text transform="translate(216.01,607.50) scale(0.735,1)" font-size="12.2" fill="#231f20">120</text>
<text transform="translate(255.02,607.50) scale(0.735,1)" font-size="12.2" fill="#231f20">92</text>
<text transform="translate(48.54,619.10) scale(0.690,1)" font-size="12.2" fill="#231f20">Mild:</text>
<text transform="translate(72.52,619.10) scale(0.735,1)" font-size="12.2" fill="#231f20">22</text>
<text transform="translate(109.02,619.10) scale(0.735,1)" font-size="12.2" fill="#231f20">14</text>
<text transform="translate(145.52,619.10) scale(0.735,1)" font-size="12.2" fill="#231f20">13</text>
<text transform="translate(182.02,619.10) scale(0.735,1)" font-size="12.2" fill="#231f20">10</text>
<text transform="translate(221.01,619.10) scale(0.735,1)" font-size="12.2" fill="#231f20">7</text>
<text transform="translate(257.51,619.10) scale(0.735,1)" font-size="12.2" fill="#231f20">6</text>
<text transform="translate(0.81,630.40) scale(0.690,1)" font-size="12.2" fill="#231f20">Moderate/severe:</text>
<text transform="translate(72.52,630.40) scale(0.735,1)" font-size="12.2" fill="#231f20">14</text>
<text transform="translate(111.51,630.40) scale(0.735,1)" font-size="12.2" fill="#231f20">8</text>
<text transform="translate(148.01,630.40) scale(0.735,1)" font-size="12.2" fill="#231f20">8</text>
<text transform="translate(184.51,630.40) scale(0.735,1)" font-size="12.2" fill="#231f20">7</text>
<text transform="translate(221.01,630.40) scale(0.735,1)" font-size="12.2" fill="#231f20">4</text>
<text transform="translate(257.51,630.40) scale(0.735,1)" font-size="12.2" fill="#231f20">2</text>
<text transform="translate(283.00,453.75) scale(0.916,1)" font-size="17" font-weight="bold" style="stroke-width:0.9px" fill="#000">F</text>
<text transform="translate(315.00,453.50) scale(0.758,1)" font-size="15.3" fill="#231f20">Number of IEI associated complications</text>
<path d="M327.50,468.00 L332.06,474.20 L337.54,478.15 L342.10,481.04 L344.53,482.41 L349.10,485.00 L349.70,486.52 L366.13,486.70 L382.55,488.22 L398.07,490.10 L418.75,490.43 L470.46,491.04 L477.76,494.40 L510.00,494.22 L510.00,507.20 L477.76,507.27 L470.46,503.88 L418.75,502.92 L398.07,501.91 L382.55,499.52 L366.13,497.47 L349.70,496.75 L349.10,495.22 L344.53,490.57 L342.10,488.04 L337.54,482.96 L332.06,476.39 L327.50,468.00 Z" fill="#5cae54" fill-opacity="0.27" stroke="none"/>
<path d="M327.50,468.00 L332.06,472.65 L336.93,475.52 L341.49,476.14 L345.14,476.95 L350.62,477.41 L363.39,477.91 L366.43,479.03 L380.73,478.79 L382.55,480.64 L417.23,480.08 L419.05,481.48 L505.74,480.06 L506.96,481.92 L510.00,481.87 L510.00,497.09 L506.96,497.05 L505.74,495.16 L419.05,494.22 L417.23,492.76 L382.55,492.39 L380.73,490.49 L366.43,490.33 L363.39,489.14 L350.62,488.28 L345.14,487.33 L341.49,484.38 L336.93,481.07 L332.06,475.34 L327.50,468.00 Z" fill="#5f86aa" fill-opacity="0.3" stroke="none"/>
<path d="M327.50,468.00 L510.00,468.00 L510.00,484.11 L372.21,482.32 L372.21,478.74 L346.05,478.74 L346.05,474.26 L329.02,471.58 L327.50,468.00 Z" fill="#d23a5e" fill-opacity="0.24" stroke="none"/>
<path d="M327.50,468.00 L327.96,468.00 L327.96,469.43 L328.87,469.43 L328.87,470.86 L329.78,470.86 L329.78,472.30 L330.69,472.30 L330.69,473.73 L331.61,473.73 L331.61,475.16 L332.06,475.16 L332.75,475.16 L332.75,476.44 L334.12,476.44 L334.12,477.71 L335.48,477.71 L335.48,478.99 L336.85,478.99 L336.85,480.26 L337.54,480.26 L338.30,480.26 L338.30,481.54 L339.82,481.54 L339.82,482.83 L341.34,482.83 L341.34,484.11 L342.10,484.11 L343.32,484.11 L343.32,485.99 L344.53,485.99 L345.67,485.99 L345.67,487.73 L347.96,487.73 L347.96,489.48 L349.10,489.48 L349.40,489.48 L349.40,491.00 L349.70,491.00 L351.07,491.00 L351.07,491.05 L353.81,491.05 L353.81,491.09 L356.55,491.09 L356.55,491.14 L359.29,491.14 L359.29,491.18 L362.02,491.18 L362.02,491.23 L364.76,491.23 L364.76,491.27 L366.13,491.27 L367.50,491.27 L367.50,491.54 L370.24,491.54 L370.24,491.81 L372.97,491.81 L372.97,492.08 L375.71,492.08 L375.71,492.34 L378.45,492.34 L378.45,492.61 L381.19,492.61 L381.19,492.88 L382.55,492.88 L383.85,492.88 L383.85,493.21 L386.43,493.21 L386.43,493.54 L389.02,493.54 L389.02,493.87 L391.60,493.87 L391.60,494.19 L394.19,494.19 L394.19,494.52 L396.77,494.52 L396.77,494.85 L398.07,494.85 L399.36,494.85 L399.36,494.91 L401.94,494.91 L401.94,494.96 L404.53,494.96 L404.53,495.02 L407.12,495.02 L407.12,495.07 L409.70,495.07 L409.70,495.13 L412.29,495.13 L412.29,495.19 L414.87,495.19 L414.87,495.24 L417.46,495.24 L417.46,495.30 L418.75,495.30 L420.11,495.30 L420.11,495.34 L422.83,495.34 L422.83,495.39 L425.55,495.39 L425.55,495.44 L428.28,495.44 L428.28,495.49 L431.00,495.49 L431.00,495.53 L433.72,495.53 L433.72,495.58 L436.44,495.58 L436.44,495.63 L439.16,495.63 L439.16,495.67 L441.88,495.67 L441.88,495.72 L444.60,495.72 L444.60,495.77 L447.33,495.77 L447.33,495.82 L450.05,495.82 L450.05,495.86 L452.77,495.86 L452.77,495.91 L455.49,495.91 L455.49,495.96 L458.21,495.96 L458.21,496.00 L460.93,496.00 L460.93,496.05 L463.65,496.05 L463.65,496.10 L466.38,496.10 L466.38,496.15 L469.10,496.15 L469.10,496.19 L470.46,496.19 L471.68,496.19 L471.68,497.33 L474.11,497.33 L474.11,498.46 L476.54,498.46 L476.54,499.59 L477.76,499.59 L510.00,499.59" fill="none" stroke="#30963a" stroke-width="1.9" stroke-linejoin="miter"/>
<path d="M327.50,468.00 L328.07,468.00 L328.07,469.50 L329.21,469.50 L329.21,471.00 L330.35,471.00 L330.35,472.50 L331.49,472.50 L331.49,474.00 L332.06,474.00 L332.87,474.00 L332.87,475.43 L334.50,475.43 L334.50,476.86 L336.12,476.86 L336.12,478.29 L336.93,478.29 L338.07,478.29 L338.07,479.28 L340.35,479.28 L340.35,480.26 L341.49,480.26 L343.32,480.26 L343.32,482.14 L345.14,482.14 L346.51,482.14 L346.51,482.50 L349.25,482.50 L349.25,482.86 L350.62,482.86 L351.89,482.86 L351.89,483.00 L354.45,483.00 L354.45,483.14 L357.00,483.14 L357.00,483.29 L359.56,483.29 L359.56,483.43 L362.11,483.43 L362.11,483.57 L363.39,483.57 L364.91,483.57 L364.91,484.74 L366.43,484.74 L380.73,484.74 L381.64,484.74 L381.64,486.62 L382.55,486.62 L417.23,486.62 L418.14,486.62 L418.14,488.05 L419.05,488.05 L505.74,488.05 L506.35,488.05 L506.35,489.93 L506.96,489.93 L510.00,489.93" fill="none" stroke="#184a7c" stroke-width="1.9" stroke-linejoin="miter"/>
<path d="M327.50,468.00 L346.05,468.00 L346.05,471.85 L372.21,471.85 L372.21,475.07 L510.00,475.07 L510.00,475.07" fill="none" stroke="#bc1440" stroke-width="1.9" stroke-linejoin="miter"/>
<path d="M327.5,463.00 V557.5 H514.5" fill="none" stroke="#111" stroke-width="2"/>
<text transform="translate(315.72,561.30) scale(0.780,1)" font-size="11.5" fill="#231f20">0</text>
<text transform="translate(310.74,538.92) scale(0.780,1)" font-size="11.5" fill="#231f20">25</text>
<text transform="translate(310.74,516.55) scale(0.780,1)" font-size="11.5" fill="#231f20">50</text>
<text transform="translate(310.74,494.18) scale(0.780,1)" font-size="11.5" fill="#231f20">75</text>
<text transform="translate(305.72,471.80) scale(0.780,1)" font-size="11.5" fill="#231f20">100</text>
<text transform="translate(325.01,572.90) scale(0.780,1)" font-size="11.5" fill="#231f20">0</text>
<text transform="translate(359.02,572.90) scale(0.780,1)" font-size="11.5" fill="#231f20">12</text>
<text transform="translate(395.52,572.90) scale(0.780,1)" font-size="11.5" fill="#231f20">24</text>
<text transform="translate(432.02,572.90) scale(0.780,1)" font-size="11.5" fill="#231f20">36</text>
<text transform="translate(468.52,572.90) scale(0.780,1)" font-size="11.5" fill="#231f20">48</text>
<text transform="translate(505.02,572.90) scale(0.780,1)" font-size="11.5" fill="#231f20">60</text>
<path d="M323.5,557.50 H327.5 M323.5,535.12 H327.5 M323.5,512.75 H327.5 M323.5,490.38 H327.5 M323.5,468.00 H327.5 M327.50,557.5 V561.5 M364.00,557.5 V561.5 M400.50,557.5 V561.5 M437.00,557.5 V561.5 M473.50,557.5 V561.5 M510.00,557.5 V561.5" stroke="#111" stroke-width="1.5" fill="none"/>
<text transform="translate(376.28,590.00) scale(0.735,1)" font-size="13" fill="#231f20">Months since HSCT</text>
<text transform="translate(298.20,510.75) rotate(-90) translate(-25.94,0) scale(0.77,1)" font-size="12.5" fill="#231f20">Survival (%)</text>
<line x1="336.7" y1="525.9" x2="347.5" y2="525.9" stroke="#bc1440" stroke-width="2"/>
<text transform="translate(351.50,528.90) scale(0.789,1)" font-size="9.9" fill="#231f20">0 92% (82–100%)</text>
<line x1="336.7" y1="538.8" x2="347.5" y2="538.8" stroke="#184a7c" stroke-width="2"/>
<text transform="translate(351.50,541.60) scale(0.785,1)" font-size="9.9" fill="#231f20">1 76% (66–85%)</text>
<line x1="336.7" y1="551.8" x2="347.5" y2="551.8" stroke="#30963a" stroke-width="2"/>
<text transform="translate(351.50,554.20) scale(0.817,1)" font-size="9.9" fill="#231f20">≥2 65% (56–73%)</text>
<text transform="translate(481.90,531.70) scale(0.900,1)" font-size="9.9" fill="#231f20">p=0.02</text>
<text transform="translate(310.27,607.40) scale(0.690,1)" font-size="12.2" fill="#231f20">0:</text>
<text transform="translate(322.52,607.40) scale(0.735,1)" font-size="12.2" fill="#231f20">26</text>
<text transform="translate(359.02,607.40) scale(0.735,1)" font-size="12.2" fill="#231f20">25</text>
<text transform="translate(395.52,607.40) scale(0.735,1)" font-size="12.2" fill="#231f20">23</text>
<text transform="translate(432.02,607.40) scale(0.735,1)" font-size="12.2" fill="#231f20">18</text>
<text transform="translate(468.52,607.40) scale(0.735,1)" font-size="12.2" fill="#231f20">14</text>
<text transform="translate(505.02,607.40) scale(0.735,1)" font-size="12.2" fill="#231f20">13</text>
<text transform="translate(310.27,618.50) scale(0.690,1)" font-size="12.2" fill="#231f20">1:</text>
<text transform="translate(322.52,618.50) scale(0.735,1)" font-size="12.2" fill="#231f20">83</text>
<text transform="translate(359.02,618.50) scale(0.735,1)" font-size="12.2" fill="#231f20">69</text>
<text transform="translate(395.52,618.50) scale(0.735,1)" font-size="12.2" fill="#231f20">62</text>
<text transform="translate(432.02,618.50) scale(0.735,1)" font-size="12.2" fill="#231f20">49</text>
<text transform="translate(468.52,618.50) scale(0.735,1)" font-size="12.2" fill="#231f20">42</text>
<text transform="translate(505.02,618.50) scale(0.735,1)" font-size="12.2" fill="#231f20">27</text>
<text transform="translate(305.64,629.60) scale(0.690,1)" font-size="12.2" fill="#231f20">≥2:</text>
<text transform="translate(320.01,629.60) scale(0.735,1)" font-size="12.2" fill="#231f20">132</text>
<text transform="translate(359.02,629.60) scale(0.735,1)" font-size="12.2" fill="#231f20">97</text>
<text transform="translate(395.52,629.60) scale(0.735,1)" font-size="12.2" fill="#231f20">89</text>
<text transform="translate(432.02,629.60) scale(0.735,1)" font-size="12.2" fill="#231f20">68</text>
<text transform="translate(468.52,629.60) scale(0.735,1)" font-size="12.2" fill="#231f20">58</text>
<text transform="translate(505.02,629.60) scale(0.735,1)" font-size="12.2" fill="#231f20">46</text>
<text transform="translate(0.00,675.75) scale(0.980,1)" font-size="17" font-weight="bold" style="stroke-width:0.9px" fill="#000">G</text>
<text transform="translate(154.00,675.00) scale(0.676,1)" font-size="15.3" fill="#231f20">HCT-CI</text>
<path d="M77.50,690.50 L77.80,692.60 L80.54,698.14 L84.50,700.45 L86.02,704.00 L88.45,707.27 L92.10,710.45 L95.14,712.06 L99.10,713.62 L116.13,714.06 L132.55,714.50 L152.02,715.17 L174.83,716.77 L218.63,716.03 L222.59,718.85 L255.44,718.93 L257.26,721.15 L260.00,721.10 L260.00,737.30 L257.26,737.27 L255.44,734.99 L222.59,733.95 L218.63,731.00 L174.83,730.19 L152.02,727.26 L132.55,725.47 L116.13,724.07 L99.10,722.64 L95.14,719.52 L92.10,716.63 L88.45,711.89 L86.02,707.60 L84.50,703.41 L80.54,699.42 L77.80,692.72 L77.50,690.50 Z" fill="#5cae54" fill-opacity="0.27" stroke="none"/>
<path d="M77.50,690.50 L83.58,693.20 L89.67,695.18 L96.05,696.44 L102.14,698.60 L113.39,699.83 L124.95,701.77 L132.55,704.63 L174.83,705.50 L224.72,705.36 L226.54,704.73 L260.00,704.63 L260.00,719.93 L226.54,719.83 L224.72,720.46 L174.83,720.32 L132.55,719.21 L124.95,716.31 L113.39,714.29 L102.14,713.00 L96.05,707.42 L89.67,702.38 L83.58,696.80 L77.50,690.50 Z" fill="#d23a5e" fill-opacity="0.24" stroke="none"/>
<path d="M77.50,690.50 L83.58,693.42 L89.67,695.63 L96.05,697.13 L102.14,699.50 L116.13,700.54 L132.25,700.67 L155.67,702.59 L174.83,703.88 L224.72,703.74 L226.54,705.63 L260.00,705.53 L260.00,719.03 L226.54,718.93 L224.72,717.04 L174.83,716.90 L155.67,715.49 L132.25,713.45 L116.13,713.22 L102.14,712.10 L96.05,706.73 L89.67,701.93 L83.58,696.58 L77.50,690.50 Z" fill="#5f86aa" fill-opacity="0.3" stroke="none"/>
<path d="M77.50,690.50 L77.58,690.50 L77.58,691.58 L77.73,691.58 L77.73,692.66 L77.80,692.66 L78.15,692.66 L78.15,694.19 L78.83,694.19 L78.83,695.72 L79.52,695.72 L79.52,697.25 L80.20,697.25 L80.20,698.78 L80.54,698.78 L81.53,698.78 L81.53,700.36 L83.51,700.36 L83.51,701.93 L84.50,701.93 L84.75,701.93 L84.75,703.22 L85.26,703.22 L85.26,704.51 L85.76,704.51 L85.76,705.80 L86.02,705.80 L86.42,705.80 L86.42,707.06 L87.23,707.06 L87.23,708.32 L88.04,708.32 L88.04,709.58 L88.45,709.58 L89.06,709.58 L89.06,710.90 L90.28,710.90 L90.28,712.22 L91.49,712.22 L91.49,713.54 L92.10,713.54 L92.86,713.54 L92.86,714.66 L94.38,714.66 L94.38,715.79 L95.14,715.79 L96.13,715.79 L96.13,716.96 L98.11,716.96 L98.11,718.13 L99.10,718.13 L100.52,718.13 L100.52,718.25 L103.35,718.25 L103.35,718.37 L106.19,718.37 L106.19,718.49 L109.03,718.49 L109.03,718.61 L111.87,718.61 L111.87,718.73 L114.71,718.73 L114.71,718.85 L116.13,718.85 L117.50,718.85 L117.50,718.97 L120.24,718.97 L120.24,719.09 L122.97,719.09 L122.97,719.21 L125.71,719.21 L125.71,719.33 L128.45,719.33 L128.45,719.45 L131.19,719.45 L131.19,719.57 L132.55,719.57 L133.94,719.57 L133.94,719.71 L136.73,719.71 L136.73,719.85 L139.51,719.85 L139.51,719.99 L142.29,719.99 L142.29,720.14 L145.07,720.14 L145.07,720.28 L147.85,720.28 L147.85,720.42 L150.63,720.42 L150.63,720.56 L152.02,720.56 L153.45,720.56 L153.45,720.81 L156.30,720.81 L156.30,721.05 L159.15,721.05 L159.15,721.30 L162.00,721.30 L162.00,721.55 L164.85,721.55 L164.85,721.80 L167.70,721.80 L167.70,722.04 L170.56,722.04 L170.56,722.29 L173.41,722.29 L173.41,722.54 L174.83,722.54 L218.63,722.54 L219.62,722.54 L219.62,723.98 L221.60,723.98 L221.60,725.42 L222.59,725.42 L223.96,725.42 L223.96,725.47 L226.69,725.47 L226.69,725.52 L229.43,725.52 L229.43,725.58 L232.17,725.58 L232.17,725.63 L234.91,725.63 L234.91,725.68 L237.64,725.68 L237.64,725.74 L240.38,725.74 L240.38,725.79 L243.12,725.79 L243.12,725.84 L245.86,725.84 L245.86,725.89 L248.59,725.89 L248.59,725.95 L251.33,725.95 L251.33,726.00 L254.07,726.00 L254.07,726.05 L255.44,726.05 L255.89,726.05 L255.89,727.17 L256.81,727.17 L256.81,728.30 L257.26,728.30 L260.00,728.30" fill="none" stroke="#30963a" stroke-width="1.9" stroke-linejoin="miter"/>
<path d="M77.50,690.50 L78.51,690.50 L78.51,692.00 L80.54,692.00 L80.54,693.50 L82.57,693.50 L82.57,695.00 L83.58,695.00 L84.60,695.00 L84.60,696.26 L86.62,696.26 L86.62,697.52 L88.65,697.52 L88.65,698.78 L89.67,698.78 L91.26,698.78 L91.26,700.36 L94.46,700.36 L94.46,701.93 L96.05,701.93 L97.07,701.93 L97.07,703.22 L99.10,703.22 L99.10,704.51 L101.12,704.51 L101.12,705.80 L102.14,705.80 L103.54,705.80 L103.54,706.12 L106.36,706.12 L106.36,706.43 L109.17,706.43 L109.17,706.75 L111.98,706.75 L111.98,707.06 L113.39,707.06 L114.84,707.06 L114.84,707.56 L117.73,707.56 L117.73,708.05 L120.62,708.05 L120.62,708.54 L123.51,708.54 L123.51,709.04 L124.95,709.04 L126.22,709.04 L126.22,710.00 L128.75,710.00 L128.75,710.96 L131.29,710.96 L131.29,711.92 L132.55,711.92 L133.96,711.92 L133.96,711.99 L136.78,711.99 L136.78,712.05 L139.60,712.05 L139.60,712.12 L142.42,712.12 L142.42,712.18 L145.24,712.18 L145.24,712.25 L148.06,712.25 L148.06,712.32 L150.88,712.32 L150.88,712.38 L153.69,712.38 L153.69,712.45 L156.51,712.45 L156.51,712.51 L159.33,712.51 L159.33,712.58 L162.15,712.58 L162.15,712.65 L164.97,712.65 L164.97,712.71 L167.79,712.71 L167.79,712.78 L170.61,712.78 L170.61,712.84 L173.42,712.84 L173.42,712.91 L174.83,712.91 L224.72,712.91 L225.63,712.91 L225.63,712.28 L226.54,712.28 L260.00,712.28" fill="none" stroke="#bc1440" stroke-width="1.9" stroke-linejoin="miter"/>
<path d="M77.50,690.50 L78.51,690.50 L78.51,692.00 L80.54,692.00 L80.54,693.50 L82.57,693.50 L82.57,695.00 L83.58,695.00 L84.60,695.00 L84.60,696.26 L86.62,696.26 L86.62,697.52 L88.65,697.52 L88.65,698.78 L89.67,698.78 L91.26,698.78 L91.26,700.36 L94.46,700.36 L94.46,701.93 L96.05,701.93 L97.07,701.93 L97.07,703.22 L99.10,703.22 L99.10,704.51 L101.12,704.51 L101.12,705.80 L102.14,705.80 L103.54,705.80 L103.54,706.02 L106.34,706.02 L106.34,706.23 L109.13,706.23 L109.13,706.45 L111.93,706.45 L111.93,706.66 L114.73,706.66 L114.73,706.88 L116.13,706.88 L117.47,706.88 L117.47,706.91 L120.16,706.91 L120.16,706.94 L122.85,706.94 L122.85,706.97 L125.53,706.97 L125.53,707.00 L128.22,707.00 L128.22,707.03 L130.91,707.03 L130.91,707.06 L132.25,707.06 L133.55,707.06 L133.55,707.28 L136.15,707.28 L136.15,707.50 L138.76,707.50 L138.76,707.72 L141.36,707.72 L141.36,707.94 L143.96,707.94 L143.96,708.16 L146.56,708.16 L146.56,708.38 L149.17,708.38 L149.17,708.60 L151.77,708.60 L151.77,708.82 L154.37,708.82 L154.37,709.04 L155.67,709.04 L157.04,709.04 L157.04,709.23 L159.78,709.23 L159.78,709.43 L162.51,709.43 L162.51,709.62 L165.25,709.62 L165.25,709.81 L167.99,709.81 L167.99,710.00 L170.73,710.00 L170.73,710.20 L173.46,710.20 L173.46,710.39 L174.83,710.39 L224.72,710.39 L225.63,710.39 L225.63,712.28 L226.54,712.28 L260.00,712.28" fill="none" stroke="#184a7c" stroke-width="1.9" stroke-linejoin="miter"/>
<path d="M77.5,685.50 V780.5 H264.5" fill="none" stroke="#111" stroke-width="2"/>
<text transform="translate(65.72,784.30) scale(0.780,1)" font-size="11.5" fill="#231f20">0</text>
<text transform="translate(60.74,761.80) scale(0.780,1)" font-size="11.5" fill="#231f20">25</text>
<text transform="translate(60.74,739.30) scale(0.780,1)" font-size="11.5" fill="#231f20">50</text>
<text transform="translate(60.74,716.80) scale(0.780,1)" font-size="11.5" fill="#231f20">75</text>
<text transform="translate(55.72,694.30) scale(0.780,1)" font-size="11.5" fill="#231f20">100</text>
<text transform="translate(75.01,795.90) scale(0.780,1)" font-size="11.5" fill="#231f20">0</text>
<text transform="translate(109.02,795.90) scale(0.780,1)" font-size="11.5" fill="#231f20">12</text>
<text transform="translate(145.52,795.90) scale(0.780,1)" font-size="11.5" fill="#231f20">24</text>
<text transform="translate(182.02,795.90) scale(0.780,1)" font-size="11.5" fill="#231f20">36</text>
<text transform="translate(218.52,795.90) scale(0.780,1)" font-size="11.5" fill="#231f20">48</text>
<text transform="translate(255.02,795.90) scale(0.780,1)" font-size="11.5" fill="#231f20">60</text>
<path d="M73.5,780.50 H77.5 M73.5,758.00 H77.5 M73.5,735.50 H77.5 M73.5,713.00 H77.5 M73.5,690.50 H77.5 M77.50,780.5 V784.5 M114.00,780.5 V784.5 M150.50,780.5 V784.5 M187.00,780.5 V784.5 M223.50,780.5 V784.5 M260.00,780.5 V784.5" stroke="#111" stroke-width="1.5" fill="none"/>
<text transform="translate(126.28,813.00) scale(0.735,1)" font-size="13" fill="#231f20">Months since HSCT</text>
<text transform="translate(48.20,733.50) rotate(-90) translate(-25.94,0) scale(0.77,1)" font-size="12.5" fill="#231f20">Survival (%)</text>
<line x1="86.7" y1="747.5" x2="97.5" y2="747.5" stroke="#bc1440" stroke-width="2"/>
<text transform="translate(102.90,751.40) scale(0.754,1)" font-size="9.9" fill="#231f20">HSCT-CI 0 76% (67–85%)</text>
<line x1="86.7" y1="761" x2="97.5" y2="761" stroke="#184a7c" stroke-width="2"/>
<text transform="translate(102.90,764.30) scale(0.756,1)" font-size="9.9" fill="#231f20">HSCT-CI 1–2 77% (69–84%)</text>
<line x1="86.7" y1="773.7" x2="97.5" y2="773.7" stroke="#30963a" stroke-width="2"/>
<text transform="translate(102.90,777.50) scale(0.773,1)" font-size="9.9" fill="#231f20">HSCT-CI &gt;2 59% (49–69%)</text>
<text transform="translate(236.20,753.80) scale(0.848,1)" font-size="9.9" fill="#231f20">p=0.01</text>
<text transform="translate(24.28,832.20) scale(0.690,1)" font-size="12.2" fill="#231f20">HSCT-CI 0:</text>
<text transform="translate(72.52,832.20) scale(0.735,1)" font-size="12.2" fill="#231f20">89</text>
<text transform="translate(109.02,832.20) scale(0.735,1)" font-size="12.2" fill="#231f20">70</text>
<text transform="translate(145.52,832.20) scale(0.735,1)" font-size="12.2" fill="#231f20">58</text>
<text transform="translate(182.02,832.20) scale(0.735,1)" font-size="12.2" fill="#231f20">49</text>
<text transform="translate(218.52,832.20) scale(0.735,1)" font-size="12.2" fill="#231f20">40</text>
<text transform="translate(255.02,832.20) scale(0.735,1)" font-size="12.2" fill="#231f20">31</text>
<text transform="translate(14.90,843.60) scale(0.690,1)" font-size="12.2" fill="#231f20">HSCT-CI 1–2:</text>
<text transform="translate(70.01,843.60) scale(0.735,1)" font-size="12.2" fill="#231f20">128</text>
<text transform="translate(106.51,843.60) scale(0.735,1)" font-size="12.2" fill="#231f20">104</text>
<text transform="translate(145.52,843.60) scale(0.735,1)" font-size="12.2" fill="#231f20">96</text>
<text transform="translate(182.02,843.60) scale(0.735,1)" font-size="12.2" fill="#231f20">79</text>
<text transform="translate(218.52,843.60) scale(0.735,1)" font-size="12.2" fill="#231f20">70</text>
<text transform="translate(255.02,843.60) scale(0.735,1)" font-size="12.2" fill="#231f20">51</text>
<text transform="translate(19.36,854.60) scale(0.690,1)" font-size="12.2" fill="#231f20">HSCT-CI &gt;2:</text>
<text transform="translate(70.01,854.60) scale(0.735,1)" font-size="12.2" fill="#231f20">105</text>
<text transform="translate(109.02,854.60) scale(0.735,1)" font-size="12.2" fill="#231f20">72</text>
<text transform="translate(145.52,854.60) scale(0.735,1)" font-size="12.2" fill="#231f20">67</text>
<text transform="translate(182.02,854.60) scale(0.735,1)" font-size="12.2" fill="#231f20">49</text>
<text transform="translate(218.52,854.60) scale(0.735,1)" font-size="12.2" fill="#231f20">39</text>
<text transform="translate(255.02,854.60) scale(0.735,1)" font-size="12.2" fill="#231f20">31</text>
<text transform="translate(283.00,675.75) scale(1.021,1)" font-size="17" font-weight="bold" style="stroke-width:0.9px" fill="#000">H</text>
<text transform="translate(391.00,675.00) scale(0.763,1)" font-size="15.3" fill="#231f20">HSCT year</text>
<path d="M327.50,690.50 L328.41,692.37 L332.06,695.52 L336.02,699.23 L339.67,704.54 L343.62,707.44 L346.66,708.39 L351.53,711.45 L366.13,712.11 L380.73,712.12 L384.68,713.98 L424.83,714.74 L427.88,714.73 L479.58,715.42 L506.96,716.26 L510.00,716.24 L510.00,728.39 L506.96,728.40 L479.58,727.49 L427.88,726.64 L424.83,726.65 L384.68,725.78 L380.73,723.90 L366.13,723.85 L351.53,723.00 L346.66,717.60 L343.62,715.19 L339.67,710.39 L336.02,703.33 L332.06,697.71 L328.41,692.81 L327.50,690.50 Z" fill="#d23a5e" fill-opacity="0.24" stroke="none"/>
<path d="M327.50,690.50 L332.98,694.71 L337.54,696.20 L342.10,696.80 L344.53,697.88 L349.10,698.57 L351.53,699.38 L366.13,699.88 L382.55,701.31 L405.67,703.93 L424.83,704.70 L470.46,704.18 L475.93,707.00 L510.00,706.61 L510.00,717.68 L475.93,717.68 L470.46,714.80 L424.83,714.80 L405.67,713.81 L382.55,710.93 L366.13,709.31 L351.53,708.53 L349.10,706.79 L344.53,704.37 L342.10,702.36 L337.54,700.03 L332.98,696.79 L327.50,690.50 Z" fill="#5f86aa" fill-opacity="0.3" stroke="none"/>
<path d="M327.50,690.50 L327.96,690.50 L327.96,692.57 L328.41,692.57 L329.02,692.57 L329.02,693.89 L330.24,693.89 L330.24,695.21 L331.45,695.21 L331.45,696.53 L332.06,696.53 L332.72,696.53 L332.72,698.06 L334.04,698.06 L334.04,699.59 L335.36,699.59 L335.36,701.12 L336.02,701.12 L336.47,701.12 L336.47,702.65 L337.39,702.65 L337.39,704.18 L338.30,704.18 L338.30,705.71 L339.21,705.71 L339.21,707.24 L339.67,707.24 L340.33,707.24 L340.33,708.50 L341.64,708.50 L341.64,709.76 L342.96,709.76 L342.96,711.02 L343.62,711.02 L345.14,711.02 L345.14,712.64 L346.66,712.64 L347.47,712.64 L347.47,714.02 L349.10,714.02 L349.10,715.40 L350.72,715.40 L350.72,716.78 L351.53,716.78 L352.99,716.78 L352.99,716.94 L355.91,716.94 L355.91,717.10 L358.83,717.10 L358.83,717.27 L361.75,717.27 L361.75,717.43 L364.67,717.43 L364.67,717.59 L366.13,717.59 L367.59,717.59 L367.59,717.61 L370.51,717.61 L370.51,717.63 L373.43,717.63 L373.43,717.64 L376.35,717.64 L376.35,717.66 L379.27,717.66 L379.27,717.68 L380.73,717.68 L382.71,717.68 L382.71,719.57 L384.68,719.57 L386.02,719.57 L386.02,719.64 L388.70,719.64 L388.70,719.70 L391.38,719.70 L391.38,719.77 L394.05,719.77 L394.05,719.83 L396.73,719.83 L396.73,719.90 L399.40,719.90 L399.40,719.97 L402.08,719.97 L402.08,720.03 L404.76,720.03 L404.76,720.10 L407.44,720.10 L407.44,720.16 L410.11,720.16 L410.11,720.23 L412.79,720.23 L412.79,720.30 L415.46,720.30 L415.46,720.36 L418.14,720.36 L418.14,720.43 L420.82,720.43 L420.82,720.49 L423.50,720.49 L423.50,720.56 L424.83,720.56 L427.88,720.56 L429.24,720.56 L429.24,720.61 L431.96,720.61 L431.96,720.66 L434.68,720.66 L434.68,720.72 L437.40,720.72 L437.40,720.77 L440.12,720.77 L440.12,720.82 L442.84,720.82 L442.84,720.87 L445.56,720.87 L445.56,720.92 L448.29,720.92 L448.29,720.98 L451.01,720.98 L451.01,721.03 L453.73,721.03 L453.73,721.08 L456.45,721.08 L456.45,721.13 L459.17,721.13 L459.17,721.19 L461.89,721.19 L461.89,721.24 L464.62,721.24 L464.62,721.29 L467.34,721.29 L467.34,721.34 L470.06,721.34 L470.06,721.39 L472.78,721.39 L472.78,721.45 L475.50,721.45 L475.50,721.50 L478.22,721.50 L478.22,721.55 L479.58,721.55 L480.95,721.55 L480.95,721.65 L483.69,721.65 L483.69,721.75 L486.43,721.75 L486.43,721.85 L489.16,721.85 L489.16,721.95 L491.90,721.95 L491.90,722.04 L494.64,722.04 L494.64,722.14 L497.38,722.14 L497.38,722.24 L500.11,722.24 L500.11,722.34 L502.85,722.34 L502.85,722.44 L505.59,722.44 L505.59,722.54 L506.96,722.54 L510.00,722.54" fill="none" stroke="#bc1440" stroke-width="1.9" stroke-linejoin="miter"/>
<path d="M327.50,690.50 L328.18,690.50 L328.18,691.81 L329.55,691.81 L329.55,693.11 L330.92,693.11 L330.92,694.41 L332.29,694.41 L332.29,695.72 L332.98,695.72 L334.12,695.72 L334.12,696.89 L336.40,696.89 L336.40,698.06 L337.54,698.06 L338.68,698.06 L338.68,698.78 L340.96,698.78 L340.96,699.50 L342.10,699.50 L343.32,699.50 L343.32,701.03 L344.53,701.03 L345.67,701.03 L345.67,701.80 L347.96,701.80 L347.96,702.56 L349.10,702.56 L350.31,702.56 L350.31,703.82 L351.53,703.82 L352.99,703.82 L352.99,703.96 L355.91,703.96 L355.91,704.11 L358.83,704.11 L358.83,704.25 L361.75,704.25 L361.75,704.40 L364.67,704.40 L364.67,704.54 L366.13,704.54 L367.50,704.54 L367.50,704.81 L370.24,704.81 L370.24,705.08 L372.97,705.08 L372.97,705.35 L375.71,705.35 L375.71,705.62 L378.45,705.62 L378.45,705.89 L381.19,705.89 L381.19,706.16 L382.55,706.16 L384.00,706.16 L384.00,706.52 L386.89,706.52 L386.89,706.88 L389.78,706.88 L389.78,707.24 L392.67,707.24 L392.67,707.60 L395.56,707.60 L395.56,707.96 L398.45,707.96 L398.45,708.32 L401.34,708.32 L401.34,708.68 L404.23,708.68 L404.23,709.04 L405.67,709.04 L407.04,709.04 L407.04,709.18 L409.78,709.18 L409.78,709.32 L412.51,709.32 L412.51,709.46 L415.25,709.46 L415.25,709.61 L417.99,709.61 L417.99,709.75 L420.73,709.75 L420.73,709.89 L423.46,709.89 L423.46,710.03 L424.83,710.03 L470.46,710.03 L471.83,710.03 L471.83,711.47 L474.56,711.47 L474.56,712.91 L475.93,712.91 L510.00,712.91" fill="none" stroke="#184a7c" stroke-width="1.9" stroke-linejoin="miter"/>
<path d="M327.5,685.50 V780.5 H514.5" fill="none" stroke="#111" stroke-width="2"/>
<text transform="translate(315.72,784.30) scale(0.780,1)" font-size="11.5" fill="#231f20">0</text>
<text transform="translate(310.74,761.80) scale(0.780,1)" font-size="11.5" fill="#231f20">25</text>
<text transform="translate(310.74,739.30) scale(0.780,1)" font-size="11.5" fill="#231f20">50</text>
<text transform="translate(310.74,716.80) scale(0.780,1)" font-size="11.5" fill="#231f20">75</text>
<text transform="translate(305.72,694.30) scale(0.780,1)" font-size="11.5" fill="#231f20">100</text>
<text transform="translate(325.01,795.90) scale(0.780,1)" font-size="11.5" fill="#231f20">0</text>
<text transform="translate(359.02,795.90) scale(0.780,1)" font-size="11.5" fill="#231f20">12</text>
<text transform="translate(395.52,795.90) scale(0.780,1)" font-size="11.5" fill="#231f20">24</text>
<text transform="translate(432.02,795.90) scale(0.780,1)" font-size="11.5" fill="#231f20">36</text>
<text transform="translate(468.52,795.90) scale(0.780,1)" font-size="11.5" fill="#231f20">48</text>
<text transform="translate(505.02,795.90) scale(0.780,1)" font-size="11.5" fill="#231f20">60</text>
<path d="M323.5,780.50 H327.5 M323.5,758.00 H327.5 M323.5,735.50 H327.5 M323.5,713.00 H327.5 M323.5,690.50 H327.5 M327.50,780.5 V784.5 M364.00,780.5 V784.5 M400.50,780.5 V784.5 M437.00,780.5 V784.5 M473.50,780.5 V784.5 M510.00,780.5 V784.5" stroke="#111" stroke-width="1.5" fill="none"/>
<text transform="translate(376.28,813.00) scale(0.735,1)" font-size="13" fill="#231f20">Months since HSCT</text>
<text transform="translate(298.20,733.50) rotate(-90) translate(-25.94,0) scale(0.77,1)" font-size="12.5" fill="#231f20">Survival (%)</text>
<line x1="332.7" y1="761" x2="344.2" y2="761" stroke="#bc1440" stroke-width="2"/>
<text transform="translate(348.00,764.80) scale(0.802,1)" font-size="9.9" fill="#231f20">2000–2013 66% (58–73%)</text>
<line x1="332.7" y1="773.5" x2="344.2" y2="773.5" stroke="#184a7c" stroke-width="2"/>
<text transform="translate(348.00,776.90) scale(0.802,1)" font-size="9.9" fill="#231f20">2014–2018 76% (68–83%)</text>
<text transform="translate(476.70,765.30) scale(0.854,1)" font-size="9.9" fill="#231f20">p=0.017</text>
<text transform="translate(274.01,843.80) scale(0.690,1)" font-size="12.2" fill="#231f20">2000–2013:</text>
<text transform="translate(320.01,843.80) scale(0.735,1)" font-size="12.2" fill="#231f20">161</text>
<text transform="translate(356.85,843.80) scale(0.735,1)" font-size="12.2" fill="#231f20">112</text>
<text transform="translate(393.01,843.80) scale(0.735,1)" font-size="12.2" fill="#231f20">106</text>
<text transform="translate(429.51,843.80) scale(0.735,1)" font-size="12.2" fill="#231f20">103</text>
<text transform="translate(466.01,843.80) scale(0.735,1)" font-size="12.2" fill="#231f20">101</text>
<text transform="translate(505.02,843.80) scale(0.735,1)" font-size="12.2" fill="#231f20">92</text>
<text transform="translate(274.01,854.60) scale(0.690,1)" font-size="12.2" fill="#231f20">2014–2018:</text>
<text transform="translate(320.01,854.60) scale(0.735,1)" font-size="12.2" fill="#231f20">168</text>
<text transform="translate(356.51,854.60) scale(0.735,1)" font-size="12.2" fill="#231f20">140</text>
<text transform="translate(393.35,854.60) scale(0.735,1)" font-size="12.2" fill="#231f20">119</text>
<text transform="translate(432.02,854.60) scale(0.735,1)" font-size="12.2" fill="#231f20">78</text>
<text transform="translate(468.52,854.60) scale(0.735,1)" font-size="12.2" fill="#231f20">52</text>
<text transform="translate(505.02,854.60) scale(0.735,1)" font-size="12.2" fill="#231f20">24</text>
<text transform="translate(36.25,896.75) scale(0.788,1)" font-size="17" font-weight="bold" style="stroke-width:0.9px" fill="#000">I</text>
<text transform="translate(139.00,897.50) scale(0.721,1)" font-size="15.3" fill="#231f20">Age at HSCT</text>
<path d="M77.50,913.00 L77.65,913.46 L78.26,917.18 L81.45,919.79 L84.50,921.65 L86.02,925.12 L89.67,927.66 L94.53,930.01 L97.58,930.30 L102.14,933.43 L116.13,934.12 L124.95,934.36 L132.55,935.49 L174.83,936.20 L176.35,938.15 L228.37,938.81 L260.00,938.61 L260.00,949.85 L228.37,950.02 L176.35,949.32 L174.83,947.38 L132.55,945.90 L124.95,944.62 L116.13,944.20 L102.14,943.21 L97.58,938.37 L94.53,936.85 L89.67,932.55 L86.02,928.54 L84.50,924.46 L81.45,921.38 L78.26,917.48 L77.65,913.53 L77.50,913.00 Z" fill="#d23a5e" fill-opacity="0.24" stroke="none"/>
<path d="M77.50,913.00 L80.54,913.00 L83.58,915.05 L86.62,915.88 L89.67,918.28 L92.71,920.58 L96.66,921.87 L99.70,924.27 L116.13,924.36 L128.90,924.79 L136.51,926.65 L152.02,927.34 L174.83,928.03 L220.15,927.47 L226.54,929.93 L257.57,929.55 L258.18,931.40 L260.00,931.38 L260.00,944.08 L258.18,944.08 L257.57,942.23 L226.54,942.23 L220.15,939.69 L174.83,939.69 L152.02,938.71 L136.51,937.83 L128.90,935.87 L116.13,935.29 L99.70,934.08 L96.66,930.34 L92.71,927.30 L89.67,923.65 L86.62,919.92 L83.58,917.74 L80.54,914.10 L77.50,913.00 Z" fill="#5f86aa" fill-opacity="0.3" stroke="none"/>
<path d="M77.50,913.00 L77.58,913.00 L77.58,913.49 L77.65,913.49 L77.80,913.49 L77.80,915.39 L78.11,915.39 L78.11,917.30 L78.26,917.30 L79.06,917.30 L79.06,918.87 L80.66,918.87 L80.66,920.43 L81.45,920.43 L82.21,920.43 L82.21,921.60 L83.74,921.60 L83.74,922.77 L84.50,922.77 L84.88,922.77 L84.88,924.63 L85.64,924.63 L85.64,926.49 L86.02,926.49 L86.93,926.49 L86.93,928.05 L88.75,928.05 L88.75,929.62 L89.67,929.62 L90.88,929.62 L90.88,931.18 L93.32,931.18 L93.32,932.75 L94.53,932.75 L96.05,932.75 L96.05,933.53 L97.58,933.53 L98.72,933.53 L98.72,935.43 L101.00,935.43 L101.00,937.34 L102.14,937.34 L103.54,937.34 L103.54,937.50 L106.34,937.50 L106.34,937.65 L109.13,937.65 L109.13,937.81 L111.93,937.81 L111.93,937.97 L114.73,937.97 L114.73,938.12 L116.13,938.12 L117.60,938.12 L117.60,938.22 L120.54,938.22 L120.54,938.32 L123.48,938.32 L123.48,938.41 L124.95,938.41 L126.22,938.41 L126.22,938.81 L128.75,938.81 L128.75,939.20 L131.29,939.20 L131.29,939.59 L132.55,939.59 L133.96,939.59 L133.96,939.65 L136.78,939.65 L136.78,939.72 L139.60,939.72 L139.60,939.78 L142.42,939.78 L142.42,939.85 L145.24,939.85 L145.24,939.91 L148.06,939.91 L148.06,939.98 L150.88,939.98 L150.88,940.04 L153.69,940.04 L153.69,940.11 L156.51,940.11 L156.51,940.17 L159.33,940.17 L159.33,940.24 L162.15,940.24 L162.15,940.30 L164.97,940.30 L164.97,940.37 L167.79,940.37 L167.79,940.44 L170.61,940.44 L170.61,940.50 L173.42,940.50 L173.42,940.57 L174.83,940.57 L175.59,940.57 L175.59,942.52 L176.35,942.52 L177.72,942.52 L177.72,942.57 L180.46,942.57 L180.46,942.62 L183.20,942.62 L183.20,942.67 L185.94,942.67 L185.94,942.73 L188.67,942.73 L188.67,942.78 L191.41,942.78 L191.41,942.83 L194.15,942.83 L194.15,942.88 L196.89,942.88 L196.89,942.93 L199.62,942.93 L199.62,942.98 L202.36,942.98 L202.36,943.03 L205.10,943.03 L205.10,943.09 L207.84,943.09 L207.84,943.14 L210.57,943.14 L210.57,943.19 L213.31,943.19 L213.31,943.24 L216.05,943.24 L216.05,943.29 L218.79,943.29 L218.79,943.34 L221.52,943.34 L221.52,943.40 L224.26,943.40 L224.26,943.45 L227.00,943.45 L227.00,943.50 L228.37,943.50 L260.00,943.50" fill="none" stroke="#bc1440" stroke-width="1.9" stroke-linejoin="miter"/>
<path d="M77.50,913.00 L79.02,913.00 L79.02,913.49 L80.54,913.49 L81.30,913.49 L81.30,915.00 L82.82,915.00 L82.82,916.52 L83.58,916.52 L85.10,916.52 L85.10,918.08 L86.62,918.08 L87.39,918.08 L87.39,919.65 L88.91,919.65 L88.91,921.21 L89.67,921.21 L90.43,921.21 L90.43,922.73 L91.95,922.73 L91.95,924.24 L92.71,924.24 L94.69,924.24 L94.69,926.49 L96.66,926.49 L97.42,926.49 L97.42,928.05 L98.94,928.05 L98.94,929.62 L99.70,929.62 L101.07,929.62 L101.07,929.75 L103.81,929.75 L103.81,929.88 L106.55,929.88 L106.55,930.01 L109.29,930.01 L109.29,930.14 L112.02,930.14 L112.02,930.27 L114.76,930.27 L114.76,930.40 L116.13,930.40 L117.41,930.40 L117.41,930.52 L119.96,930.52 L119.96,930.63 L122.52,930.63 L122.52,930.75 L125.07,930.75 L125.07,930.87 L127.63,930.87 L127.63,930.99 L128.90,930.99 L130.17,930.99 L130.17,931.64 L132.71,931.64 L132.71,932.29 L135.24,932.29 L135.24,932.94 L136.51,932.94 L137.80,932.94 L137.80,933.09 L140.39,933.09 L140.39,933.23 L142.97,933.23 L142.97,933.38 L145.56,933.38 L145.56,933.53 L148.14,933.53 L148.14,933.67 L150.73,933.67 L150.73,933.82 L152.02,933.82 L153.45,933.82 L153.45,933.94 L156.30,933.94 L156.30,934.07 L159.15,934.07 L159.15,934.19 L162.00,934.19 L162.00,934.31 L164.85,934.31 L164.85,934.43 L167.70,934.43 L167.70,934.55 L170.56,934.55 L170.56,934.68 L173.41,934.68 L173.41,934.80 L174.83,934.80 L220.15,934.80 L221.75,934.80 L221.75,936.07 L224.94,936.07 L224.94,937.34 L226.54,937.34 L257.57,937.34 L257.87,937.34 L257.87,939.20 L258.18,939.20 L260.00,939.20" fill="none" stroke="#184a7c" stroke-width="1.9" stroke-linejoin="miter"/>
<path d="M77.5,908.00 V1010.75 H264.5" fill="none" stroke="#111" stroke-width="2"/>
<text transform="translate(65.72,1014.55) scale(0.780,1)" font-size="11.5" fill="#231f20">0</text>
<text transform="translate(60.74,990.11) scale(0.780,1)" font-size="11.5" fill="#231f20">25</text>
<text transform="translate(60.74,965.67) scale(0.780,1)" font-size="11.5" fill="#231f20">50</text>
<text transform="translate(60.74,941.24) scale(0.780,1)" font-size="11.5" fill="#231f20">75</text>
<text transform="translate(55.72,916.80) scale(0.780,1)" font-size="11.5" fill="#231f20">100</text>
<text transform="translate(75.01,1026.15) scale(0.780,1)" font-size="11.5" fill="#231f20">0</text>
<text transform="translate(109.02,1026.15) scale(0.780,1)" font-size="11.5" fill="#231f20">12</text>
<text transform="translate(145.52,1026.15) scale(0.780,1)" font-size="11.5" fill="#231f20">24</text>
<text transform="translate(182.02,1026.15) scale(0.780,1)" font-size="11.5" fill="#231f20">36</text>
<text transform="translate(218.52,1026.15) scale(0.780,1)" font-size="11.5" fill="#231f20">48</text>
<text transform="translate(255.02,1026.15) scale(0.780,1)" font-size="11.5" fill="#231f20">60</text>
<path d="M73.5,1010.75 H77.5 M73.5,986.31 H77.5 M73.5,961.88 H77.5 M73.5,937.44 H77.5 M73.5,913.00 H77.5 M77.50,1010.75 V1014.75 M114.00,1010.75 V1014.75 M150.50,1010.75 V1014.75 M187.00,1010.75 V1014.75 M223.50,1010.75 V1014.75 M260.00,1010.75 V1014.75" stroke="#111" stroke-width="1.5" fill="none"/>
<text transform="translate(126.28,1043.25) scale(0.735,1)" font-size="13" fill="#231f20">Months since HSCT</text>
<text transform="translate(48.20,959.88) rotate(-90) translate(-25.94,0) scale(0.77,1)" font-size="12.5" fill="#231f20">Survival (%)</text>
<line x1="87.5" y1="991.2" x2="99" y2="991.2" stroke="#bc1440" stroke-width="2"/>
<text transform="translate(103.80,995.00) scale(0.811,1)" font-size="9.9" fill="#231f20">≥18 69% (62–76%)</text>
<line x1="87.5" y1="1003.5" x2="99" y2="1003.5" stroke="#184a7c" stroke-width="2"/>
<text transform="translate(103.80,1007.10) scale(0.808,1)" font-size="9.9" fill="#231f20">&lt;18 73% (66–81%)</text>
<text transform="translate(230.40,995.90) scale(0.878,1)" font-size="9.9" fill="#231f20">p=0.177</text>
<text transform="translate(46.87,1061.50) scale(0.690,1)" font-size="12.2" fill="#231f20">≥18:</text>
<text transform="translate(70.01,1061.50) scale(0.735,1)" font-size="12.2" fill="#231f20">177</text>
<text transform="translate(106.51,1061.50) scale(0.735,1)" font-size="12.2" fill="#231f20">130</text>
<text transform="translate(143.01,1061.50) scale(0.735,1)" font-size="12.2" fill="#231f20">120</text>
<text transform="translate(182.02,1061.50) scale(0.735,1)" font-size="12.2" fill="#231f20">99</text>
<text transform="translate(218.52,1061.50) scale(0.735,1)" font-size="12.2" fill="#231f20">86</text>
<text transform="translate(255.02,1061.50) scale(0.735,1)" font-size="12.2" fill="#231f20">64</text>
<text transform="translate(46.57,1072.30) scale(0.690,1)" font-size="12.2" fill="#231f20">&lt;18:</text>
<text transform="translate(70.01,1072.30) scale(0.735,1)" font-size="12.2" fill="#231f20">152</text>
<text transform="translate(106.51,1072.30) scale(0.735,1)" font-size="12.2" fill="#231f20">122</text>
<text transform="translate(143.01,1072.30) scale(0.735,1)" font-size="12.2" fill="#231f20">105</text>
<text transform="translate(182.02,1072.30) scale(0.735,1)" font-size="12.2" fill="#231f20">82</text>
<text transform="translate(218.52,1072.30) scale(0.735,1)" font-size="12.2" fill="#231f20">67</text>
<text transform="translate(255.02,1072.30) scale(0.735,1)" font-size="12.2" fill="#231f20">52</text>
</svg></body></html>
